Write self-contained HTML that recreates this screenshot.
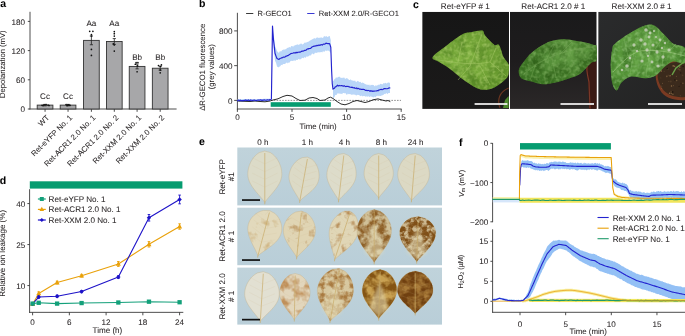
<!DOCTYPE html>
<html><head><meta charset="utf-8"><style>
html,body{margin:0;padding:0;background:#fff;}
body{width:685px;height:336px;overflow:hidden;}
svg{display:block;font-family:"Liberation Sans", sans-serif;will-change:transform;}
text{text-rendering:geometricPrecision;stroke:#231f20;stroke-width:0.06px;paint-order:stroke;}
</style></head><body>
<svg width="685" height="336" viewBox="0 0 685 336">
<text x="0.30" y="7.30" font-size="10.5" text-anchor="start" font-weight="bold" fill="#000" >a</text>
<line x1="30.00" y1="11.80" x2="30.00" y2="109.45" stroke="#3a3a3a" stroke-width="0.9" />
<line x1="27.80" y1="109.00" x2="30.00" y2="109.00" stroke="#3a3a3a" stroke-width="0.9" />
<text x="24.90" y="112.10" font-size="8.1" text-anchor="end" font-weight="normal" fill="#231f20" >0</text>
<line x1="27.80" y1="79.80" x2="30.00" y2="79.80" stroke="#3a3a3a" stroke-width="0.9" />
<text x="24.90" y="82.90" font-size="8.1" text-anchor="end" font-weight="normal" fill="#231f20" >60</text>
<line x1="27.80" y1="50.60" x2="30.00" y2="50.60" stroke="#3a3a3a" stroke-width="0.9" />
<text x="24.90" y="53.70" font-size="8.1" text-anchor="end" font-weight="normal" fill="#231f20" >120</text>
<line x1="27.80" y1="21.40" x2="30.00" y2="21.40" stroke="#3a3a3a" stroke-width="0.9" />
<text x="24.90" y="24.50" font-size="8.1" text-anchor="end" font-weight="normal" fill="#231f20" >180</text>
<text x="0" y="0" transform="translate(5.00,64.20) rotate(-90)" font-size="7.65" text-anchor="middle" font-weight="normal" fill="#231f20" >Depolarization (mV)</text>
<line x1="29.55" y1="109.00" x2="176.60" y2="109.00" stroke="#3a3a3a" stroke-width="0.9" />
<rect x="37.20" y="105.11" width="15.7" height="3.89" fill="#a7a7a9" stroke="#333" stroke-width="0.9"/>
<line x1="45.05" y1="105.84" x2="45.05" y2="104.38" stroke="#222" stroke-width="0.8" />
<line x1="43.45" y1="104.38" x2="46.65" y2="104.38" stroke="#222" stroke-width="0.8" />
<line x1="43.45" y1="105.84" x2="46.65" y2="105.84" stroke="#222" stroke-width="0.8" />
<circle cx="42.05" cy="105.35" r="0.85" fill="#111"/>
<circle cx="44.05" cy="104.86" r="0.85" fill="#111"/>
<circle cx="46.05" cy="104.62" r="0.85" fill="#111"/>
<circle cx="48.05" cy="105.11" r="0.85" fill="#111"/>
<circle cx="43.05" cy="105.59" r="0.85" fill="#111"/>
<circle cx="49.05" cy="105.50" r="0.85" fill="#111"/>
<line x1="45.05" y1="109.00" x2="45.05" y2="111.80" stroke="#3a3a3a" stroke-width="0.9" />
<text x="45.05" y="99.40" font-size="8.1" text-anchor="middle" font-weight="normal" fill="#231f20" >Cc</text>
<text x="0" y="0" transform="translate(49.75,118.20) rotate(-45)" font-size="7.75" text-anchor="end" font-weight="normal" fill="#231f20" >WT</text>
<rect x="60.20" y="105.11" width="15.7" height="3.89" fill="#a7a7a9" stroke="#333" stroke-width="0.9"/>
<line x1="68.05" y1="105.84" x2="68.05" y2="104.38" stroke="#222" stroke-width="0.8" />
<line x1="66.45" y1="104.38" x2="69.65" y2="104.38" stroke="#222" stroke-width="0.8" />
<line x1="66.45" y1="105.84" x2="69.65" y2="105.84" stroke="#222" stroke-width="0.8" />
<circle cx="66.05" cy="104.62" r="0.85" fill="#111"/>
<circle cx="68.05" cy="104.86" r="0.85" fill="#111"/>
<circle cx="70.05" cy="105.35" r="0.85" fill="#111"/>
<circle cx="67.05" cy="105.59" r="0.85" fill="#111"/>
<circle cx="69.05" cy="105.11" r="0.85" fill="#111"/>
<line x1="68.05" y1="109.00" x2="68.05" y2="111.80" stroke="#3a3a3a" stroke-width="0.9" />
<text x="68.05" y="99.40" font-size="8.1" text-anchor="middle" font-weight="normal" fill="#231f20" >Cc</text>
<text x="0" y="0" transform="translate(72.75,118.20) rotate(-45)" font-size="7.75" text-anchor="end" font-weight="normal" fill="#231f20" >Ret-eYFP No. 1</text>
<rect x="83.55" y="40.38" width="15.7" height="68.62" fill="#a7a7a9" stroke="#333" stroke-width="0.9"/>
<line x1="91.40" y1="44.76" x2="91.40" y2="36.00" stroke="#222" stroke-width="0.8" />
<line x1="89.80" y1="36.00" x2="93.00" y2="36.00" stroke="#222" stroke-width="0.8" />
<line x1="89.80" y1="44.76" x2="93.00" y2="44.76" stroke="#222" stroke-width="0.8" />
<circle cx="89.70" cy="31.33" r="0.85" fill="#111"/>
<circle cx="92.90" cy="31.33" r="0.85" fill="#111"/>
<circle cx="91.40" cy="34.54" r="0.85" fill="#111"/>
<circle cx="91.40" cy="36.00" r="0.85" fill="#111"/>
<circle cx="91.40" cy="49.43" r="0.85" fill="#111"/>
<circle cx="91.40" cy="55.47" r="0.85" fill="#111"/>
<line x1="91.40" y1="109.00" x2="91.40" y2="111.80" stroke="#3a3a3a" stroke-width="0.9" />
<text x="91.40" y="26.00" font-size="8.1" text-anchor="middle" font-weight="normal" fill="#231f20" >Aa</text>
<text x="0" y="0" transform="translate(96.10,118.20) rotate(-45)" font-size="7.75" text-anchor="end" font-weight="normal" fill="#231f20" >Ret-ACR1 2.0 No. 1</text>
<rect x="106.45" y="41.50" width="15.7" height="67.50" fill="#a7a7a9" stroke="#333" stroke-width="0.9"/>
<line x1="114.30" y1="44.42" x2="114.30" y2="38.58" stroke="#222" stroke-width="0.8" />
<line x1="112.70" y1="38.58" x2="115.90" y2="38.58" stroke="#222" stroke-width="0.8" />
<line x1="112.70" y1="44.42" x2="115.90" y2="44.42" stroke="#222" stroke-width="0.8" />
<circle cx="114.30" cy="31.62" r="0.85" fill="#111"/>
<circle cx="114.30" cy="33.71" r="0.85" fill="#111"/>
<circle cx="114.30" cy="36.10" r="0.85" fill="#111"/>
<circle cx="113.30" cy="43.79" r="0.85" fill="#111"/>
<circle cx="114.30" cy="45.00" r="0.85" fill="#111"/>
<circle cx="114.30" cy="51.09" r="0.85" fill="#111"/>
<line x1="114.30" y1="109.00" x2="114.30" y2="111.80" stroke="#3a3a3a" stroke-width="0.9" />
<text x="114.30" y="26.00" font-size="8.1" text-anchor="middle" font-weight="normal" fill="#231f20" >Aa</text>
<text x="0" y="0" transform="translate(119.00,118.20) rotate(-45)" font-size="7.75" text-anchor="end" font-weight="normal" fill="#231f20" >Ret-ACR1 2.0 No. 2</text>
<rect x="129.25" y="66.42" width="15.7" height="42.58" fill="#a7a7a9" stroke="#333" stroke-width="0.9"/>
<line x1="137.10" y1="68.85" x2="137.10" y2="63.98" stroke="#222" stroke-width="0.8" />
<line x1="135.50" y1="63.98" x2="138.70" y2="63.98" stroke="#222" stroke-width="0.8" />
<line x1="135.50" y1="68.85" x2="138.70" y2="68.85" stroke="#222" stroke-width="0.8" />
<circle cx="136.10" cy="62.72" r="0.85" fill="#111"/>
<circle cx="137.90" cy="62.52" r="0.85" fill="#111"/>
<circle cx="135.30" cy="64.23" r="0.85" fill="#111"/>
<circle cx="137.60" cy="65.88" r="0.85" fill="#111"/>
<circle cx="137.10" cy="71.77" r="0.85" fill="#111"/>
<line x1="137.10" y1="109.00" x2="137.10" y2="111.80" stroke="#3a3a3a" stroke-width="0.9" />
<text x="137.10" y="59.70" font-size="8.1" text-anchor="middle" font-weight="normal" fill="#231f20" >Bb</text>
<text x="0" y="0" transform="translate(141.80,118.20) rotate(-45)" font-size="7.75" text-anchor="end" font-weight="normal" fill="#231f20" >Ret-XXM 2.0 No. 1</text>
<rect x="152.35" y="68.22" width="15.7" height="40.78" fill="#a7a7a9" stroke="#333" stroke-width="0.9"/>
<line x1="160.20" y1="70.16" x2="160.20" y2="66.27" stroke="#222" stroke-width="0.8" />
<line x1="158.60" y1="66.27" x2="161.80" y2="66.27" stroke="#222" stroke-width="0.8" />
<line x1="158.60" y1="70.16" x2="161.80" y2="70.16" stroke="#222" stroke-width="0.8" />
<circle cx="158.50" cy="65.49" r="0.85" fill="#111"/>
<circle cx="161.40" cy="64.91" r="0.85" fill="#111"/>
<circle cx="160.40" cy="66.51" r="0.85" fill="#111"/>
<circle cx="160.20" cy="70.12" r="0.85" fill="#111"/>
<circle cx="160.20" cy="72.79" r="0.85" fill="#111"/>
<line x1="160.20" y1="109.00" x2="160.20" y2="111.80" stroke="#3a3a3a" stroke-width="0.9" />
<text x="160.20" y="59.70" font-size="8.1" text-anchor="middle" font-weight="normal" fill="#231f20" >Bb</text>
<text x="0" y="0" transform="translate(164.90,118.20) rotate(-45)" font-size="7.75" text-anchor="end" font-weight="normal" fill="#231f20" >Ret-XXM 2.0 No. 2</text>
<text x="198.90" y="7.30" font-size="10.5" text-anchor="start" font-weight="bold" fill="#000" >b</text>
<line x1="237.40" y1="12.80" x2="237.40" y2="109.40" stroke="#3a3a3a" stroke-width="0.9" />
<line x1="234.20" y1="100.40" x2="237.40" y2="100.40" stroke="#3a3a3a" stroke-width="0.9" />
<text x="232.40" y="103.50" font-size="8.1" text-anchor="end" font-weight="normal" fill="#231f20" >0</text>
<line x1="234.20" y1="65.65" x2="237.40" y2="65.65" stroke="#3a3a3a" stroke-width="0.9" />
<text x="232.40" y="68.75" font-size="8.1" text-anchor="end" font-weight="normal" fill="#231f20" >400</text>
<line x1="234.20" y1="30.90" x2="237.40" y2="30.90" stroke="#3a3a3a" stroke-width="0.9" />
<text x="232.40" y="34.00" font-size="8.1" text-anchor="end" font-weight="normal" fill="#231f20" >800</text>
<line x1="236.95" y1="109.00" x2="401.60" y2="109.00" stroke="#3a3a3a" stroke-width="0.9" />
<line x1="237.40" y1="109.00" x2="237.40" y2="111.90" stroke="#3a3a3a" stroke-width="0.9" />
<text x="237.40" y="120.30" font-size="8.1" text-anchor="middle" font-weight="normal" fill="#231f20" >0</text>
<line x1="292.00" y1="109.00" x2="292.00" y2="111.90" stroke="#3a3a3a" stroke-width="0.9" />
<text x="292.00" y="120.30" font-size="8.1" text-anchor="middle" font-weight="normal" fill="#231f20" >5</text>
<line x1="346.60" y1="109.00" x2="346.60" y2="111.90" stroke="#3a3a3a" stroke-width="0.9" />
<text x="346.60" y="120.30" font-size="8.1" text-anchor="middle" font-weight="normal" fill="#231f20" >10</text>
<line x1="401.20" y1="109.00" x2="401.20" y2="111.90" stroke="#3a3a3a" stroke-width="0.9" />
<text x="401.20" y="120.30" font-size="8.1" text-anchor="middle" font-weight="normal" fill="#231f20" >15</text>
<text x="318.10" y="128.80" font-size="7.8" text-anchor="middle" font-weight="normal" fill="#231f20" >Time (min)</text>
<text x="0" y="0" transform="translate(205.20,67.30) rotate(-90)" font-size="7.8" text-anchor="middle" font-weight="normal" fill="#231f20" >ΔR-GECO1 fluorescence</text>
<text x="0" y="0" transform="translate(213.60,66.80) rotate(-90)" font-size="7.8" text-anchor="middle" font-weight="normal" fill="#231f20" >(grey values)</text>
<line x1="246.10" y1="13.50" x2="253.30" y2="13.50" stroke="#222" stroke-width="0.9" />
<text x="257.50" y="15.90" font-size="7.5" text-anchor="start" font-weight="normal" fill="#231f20" >R-GECO1</text>
<line x1="307.20" y1="13.50" x2="314.50" y2="13.50" stroke="#2323cf" stroke-width="0.9" />
<text x="318.70" y="15.90" font-size="7.6" text-anchor="start" font-weight="normal" fill="#231f20" >Ret-XXM 2.0/R-GECO1</text>
<line x1="237.40" y1="100.40" x2="401.00" y2="100.40" stroke="#444" stroke-width="0.6" stroke-dasharray="1.6,1.2"/>
<rect x="270.7" y="102.2" width="60.1" height="4.6" fill="#069c70"/>
<path d="M237.50,99.40 L238.25,99.36 L239.00,99.32 L239.75,99.28 L240.50,99.24 L241.25,99.20 L242.00,99.16 L242.75,99.12 L243.50,99.08 L244.25,99.04 L245.00,99.00 L245.71,99.01 L246.43,99.03 L247.14,99.04 L247.86,99.06 L248.57,99.07 L249.29,99.09 L250.00,99.10 L250.71,99.11 L251.43,99.13 L252.14,99.14 L252.86,99.16 L253.57,99.17 L254.29,99.19 L255.00,99.20 L255.71,99.17 L256.43,99.14 L257.14,99.11 L257.86,99.09 L258.57,99.06 L259.29,99.03 L260.00,99.00 L260.71,98.97 L261.43,98.94 L262.14,98.91 L262.86,98.89 L263.57,98.86 L264.29,98.83 L265.00,98.80 L265.71,98.77 L266.43,98.74 L267.14,98.71 L267.86,98.69 L268.57,98.66 L269.29,98.63 L270.00,98.60 L270.00,101.00 L269.29,101.03 L268.57,101.06 L267.86,101.09 L267.14,101.11 L266.43,101.14 L265.71,101.17 L265.00,101.20 L264.29,101.23 L263.57,101.26 L262.86,101.29 L262.14,101.31 L261.43,101.34 L260.71,101.37 L260.00,101.40 L259.29,101.43 L258.57,101.46 L257.86,101.49 L257.14,101.51 L256.43,101.54 L255.71,101.57 L255.00,101.60 L254.29,101.59 L253.57,101.57 L252.86,101.56 L252.14,101.54 L251.43,101.53 L250.71,101.51 L250.00,101.50 L249.29,101.49 L248.57,101.47 L247.86,101.46 L247.14,101.44 L246.43,101.43 L245.71,101.41 L245.00,101.40 L244.25,101.44 L243.50,101.48 L242.75,101.52 L242.00,101.56 L241.25,101.60 L240.50,101.64 L239.75,101.68 L239.00,101.72 L238.25,101.76 L237.50,101.80Z" fill="#b9d6f8" stroke="none" />
<path d="M273.50,33.12 L274.25,39.13 L275.00,45.91 L276.00,48.28 L277.00,51.00 L278.40,52.80 L279.17,52.56 L279.93,50.93 L280.70,51.54 L281.47,51.26 L282.23,49.72 L283.00,50.25 L283.72,49.36 L284.43,49.64 L285.15,49.08 L285.87,49.56 L286.58,48.48 L287.30,47.81 L288.05,48.00 L288.80,47.28 L289.55,47.03 L290.30,47.63 L291.05,46.15 L291.80,46.05 L292.54,46.37 L293.28,46.65 L294.02,45.17 L294.76,45.64 L295.50,45.10 L296.24,44.69 L296.98,44.81 L297.72,44.33 L298.46,45.02 L299.20,44.22 L299.94,44.57 L300.69,43.57 L301.43,43.45 L302.17,44.49 L302.91,44.21 L303.66,43.87 L304.40,42.46 L305.14,42.99 L305.89,42.37 L306.63,42.58 L307.37,41.93 L308.11,41.81 L308.86,41.55 L309.60,40.86 L310.35,40.53 L311.10,39.68 L311.85,39.70 L312.60,38.96 L313.35,38.74 L314.10,38.19 L314.85,38.36 L315.60,38.84 L316.34,37.65 L317.08,37.41 L317.81,37.43 L318.55,37.89 L319.29,37.58 L320.02,38.31 L320.76,37.24 L321.50,37.58 L322.25,37.79 L323.00,37.90 L323.75,36.38 L324.50,35.92 L325.25,37.11 L326.00,35.72 L326.74,36.40 L327.48,36.88 L328.22,36.71 L328.96,36.01 L329.70,35.90 L330.80,40.23 L330.80,53.46 L329.70,51.42 L328.96,50.94 L328.22,50.48 L327.48,50.50 L326.74,51.35 L326.00,50.36 L325.25,50.75 L324.50,51.68 L323.75,51.66 L323.00,51.04 L322.25,52.49 L321.50,52.10 L320.76,52.06 L320.02,52.60 L319.29,52.32 L318.55,52.30 L317.81,52.46 L317.08,52.46 L316.34,52.97 L315.60,52.83 L314.85,52.84 L314.10,54.32 L313.35,54.19 L312.60,53.55 L311.85,53.82 L311.10,55.31 L310.35,55.59 L309.60,55.36 L308.86,56.20 L308.11,56.17 L307.37,56.75 L306.63,56.15 L305.89,57.38 L305.14,57.67 L304.40,57.03 L303.66,58.14 L302.91,58.09 L302.17,57.66 L301.43,58.73 L300.69,58.91 L299.94,59.85 L299.20,58.98 L298.46,59.03 L297.72,59.95 L296.98,59.64 L296.24,59.91 L295.50,60.75 L294.76,60.39 L294.02,60.44 L293.28,60.65 L292.54,60.88 L291.80,60.83 L291.05,61.10 L290.30,61.34 L289.55,62.53 L288.80,63.00 L288.05,62.34 L287.30,63.59 L286.58,62.57 L285.87,63.05 L285.15,64.08 L284.43,64.05 L283.72,64.02 L283.00,64.05 L282.23,65.28 L281.47,64.76 L280.70,65.45 L279.93,66.86 L279.17,66.39 L278.40,67.47 L277.00,66.41 L276.00,62.78 L275.00,60.65 L274.25,53.07 L273.50,47.48Z" fill="#b9d6f8" stroke="none" />
<path d="M333.00,81.18 L333.75,80.47 L334.50,78.97 L335.25,78.80 L336.00,77.33 L336.75,77.63 L337.56,77.38 L338.38,76.92 L339.19,76.59 L340.00,77.32 L340.71,77.81 L341.43,78.11 L342.14,77.58 L342.86,78.26 L343.57,77.40 L344.29,77.48 L345.00,78.65 L345.71,78.70 L346.43,78.06 L347.14,78.52 L347.86,78.46 L348.57,79.40 L349.29,79.95 L350.00,79.89 L350.71,79.28 L351.43,80.32 L352.14,80.40 L352.86,80.49 L353.57,80.69 L354.29,80.90 L355.00,80.29 L355.71,81.71 L356.43,82.15 L357.14,80.85 L357.86,81.15 L358.57,81.18 L359.29,82.27 L360.00,81.64 L360.71,81.88 L361.43,83.21 L362.14,82.57 L362.86,82.63 L363.57,83.11 L364.29,83.54 L365.00,84.11 L365.71,84.23 L366.43,84.61 L367.14,85.06 L367.86,84.43 L368.57,85.11 L369.29,84.48 L370.00,85.90 L370.71,84.63 L371.42,85.06 L372.12,84.79 L372.83,84.94 L373.54,85.03 L374.25,85.63 L375.00,86.38 L375.75,85.06 L376.50,85.83 L377.25,85.47 L378.00,84.74 L378.80,84.76 L379.60,84.74 L380.40,83.70 L381.20,84.02 L382.00,84.25 L382.80,84.20 L383.60,83.02 L384.40,83.44 L385.20,82.75 L386.00,83.24 L386.80,83.40 L387.60,82.78 L388.40,82.25 L389.20,83.21 L390.00,82.13 L390.00,92.96 L389.20,93.03 L388.40,93.03 L387.60,94.28 L386.80,93.35 L386.00,93.21 L385.20,94.34 L384.40,93.77 L383.60,94.70 L382.80,95.17 L382.00,95.27 L381.20,95.67 L380.40,96.02 L379.60,95.86 L378.80,96.30 L378.00,95.40 L377.25,96.09 L376.50,95.92 L375.75,96.92 L375.00,97.24 L374.25,96.55 L373.54,97.44 L372.83,97.37 L372.12,96.66 L371.42,96.67 L370.71,96.12 L370.00,97.14 L369.29,96.80 L368.57,96.25 L367.86,96.51 L367.14,96.80 L366.43,96.27 L365.71,96.64 L365.00,96.22 L364.29,95.94 L363.57,95.95 L362.86,96.17 L362.14,96.37 L361.43,95.61 L360.71,96.17 L360.00,95.80 L359.29,95.35 L358.57,94.95 L357.86,94.71 L357.14,95.10 L356.43,95.56 L355.71,95.21 L355.00,94.44 L354.29,94.68 L353.57,94.38 L352.86,94.56 L352.14,94.84 L351.43,94.85 L350.71,94.29 L350.00,94.15 L349.29,94.07 L348.57,94.28 L347.86,93.53 L347.14,94.67 L346.43,94.78 L345.71,93.25 L345.00,93.25 L344.29,93.24 L343.57,93.11 L342.86,93.01 L342.14,94.24 L341.43,93.74 L340.71,93.65 L340.00,93.80 L339.19,93.48 L338.38,93.57 L337.56,93.31 L336.75,94.68 L336.00,95.11 L335.25,94.91 L334.50,97.02 L333.75,97.69 L333.00,98.57Z" fill="#b9d6f8" stroke="none" />
<path d="M237.50,101.00 L245.00,101.30 L250.00,101.50 L255.00,101.00 L260.00,101.50 L265.00,101.80 L270.00,101.00 L273.00,100.00 L278.00,98.80 L283.00,96.50 L287.00,95.30 L292.00,96.00 L296.00,98.50 L300.00,100.50 L305.00,100.20 L309.00,98.00 L313.00,97.50 L317.00,98.50 L320.00,100.50 L325.00,100.00 L328.00,98.00 L330.50,97.20 L333.00,98.50 L337.00,101.50 L341.00,104.00 L345.00,104.80 L349.00,103.50 L353.00,101.50 L357.00,100.50 L361.00,101.50 L365.00,102.50 L369.00,101.50 L373.00,99.80 L378.00,98.90 L382.00,100.00 L386.00,101.00 L388.00,100.50 L390.00,101.50" fill="none" stroke="#2a2a2a" stroke-width="1.0" stroke-linejoin="round" stroke-linecap="round" />
<path d="M237.50,100.94 L238.25,100.27 L239.00,100.09 L239.75,100.79 L240.50,100.10 L241.25,100.71 L242.00,100.52 L242.75,100.62 L243.50,100.69 L244.25,100.31 L245.00,100.47 L245.71,99.80 L246.43,100.47 L247.14,100.25 L247.86,100.45 L248.57,99.92 L249.29,100.51 L250.00,100.69 L250.71,99.92 L251.43,100.17 L252.14,100.40 L252.86,100.65 L253.57,100.14 L254.29,100.10 L255.00,100.17 L255.71,100.48 L256.43,100.57 L257.14,100.22 L257.86,100.17 L258.57,100.16 L259.29,100.09 L260.00,100.13 L260.71,99.80 L261.43,100.14 L262.14,100.54 L262.86,100.01 L263.57,100.28 L264.29,99.72 L265.00,100.17 L265.71,100.20 L266.43,100.10 L267.14,99.93 L267.86,99.87 L268.57,99.99 L269.29,100.19 L270.00,99.48 L271.40,99.20 L272.00,60.00 L272.50,26.00 L273.50,40.00 L274.25,46.14 L275.00,53.22 L276.00,56.12 L277.00,58.52 L278.40,59.35 L279.17,59.28 L279.93,58.48 L280.70,58.24 L281.47,57.86 L282.23,57.89 L283.00,57.33 L283.72,56.96 L284.43,57.07 L285.15,57.01 L285.87,56.12 L286.58,56.18 L287.30,55.62 L288.05,55.65 L288.80,55.04 L289.55,54.39 L290.30,53.98 L291.05,53.44 L291.80,53.48 L292.54,53.24 L293.28,52.91 L294.02,52.92 L294.76,52.74 L295.50,53.00 L296.24,52.28 L296.98,52.89 L297.72,52.28 L298.46,52.24 L299.20,51.97 L299.94,52.09 L300.69,51.86 L301.43,51.41 L302.17,51.13 L302.91,51.13 L303.66,51.04 L304.40,50.41 L305.14,50.40 L305.89,50.29 L306.63,49.53 L307.37,49.00 L308.11,48.69 L308.86,48.81 L309.60,48.46 L310.35,48.38 L311.10,47.94 L311.85,47.06 L312.60,46.67 L313.35,46.40 L314.10,45.99 L314.85,46.12 L315.60,45.92 L316.34,45.88 L317.08,45.23 L317.81,45.70 L318.55,45.13 L319.29,45.16 L320.02,45.36 L320.76,44.70 L321.50,44.63 L322.25,45.05 L323.00,44.31 L323.75,44.12 L324.50,44.07 L325.25,43.91 L326.00,43.06 L326.74,43.41 L327.48,43.56 L328.22,43.67 L328.96,43.48 L329.70,43.88 L330.80,47.21 L331.60,69.90 L332.30,84.04 L333.00,89.06 L333.75,88.50 L334.50,88.15 L335.25,86.85 L336.00,86.75 L336.75,85.97 L337.56,85.21 L338.38,85.95 L339.19,85.41 L340.00,85.75 L340.71,85.80 L341.43,85.46 L342.14,85.87 L342.86,85.92 L343.57,86.13 L344.29,85.72 L345.00,86.23 L345.71,86.56 L346.43,86.44 L347.14,86.46 L347.86,86.22 L348.57,86.71 L349.29,86.72 L350.00,87.20 L350.71,87.30 L351.43,87.35 L352.14,87.14 L352.86,87.70 L353.57,87.83 L354.29,87.57 L355.00,88.35 L355.71,88.28 L356.43,87.95 L357.14,88.82 L357.86,88.25 L358.57,88.56 L359.29,89.06 L360.00,89.09 L360.71,89.19 L361.43,89.42 L362.14,89.39 L362.86,89.40 L363.57,89.42 L364.29,89.47 L365.00,90.19 L365.71,90.37 L366.43,90.32 L367.14,90.64 L367.86,90.44 L368.57,90.50 L369.29,90.75 L370.00,91.34 L370.71,90.63 L371.42,91.09 L372.12,90.90 L372.83,91.41 L373.54,91.08 L374.25,91.10 L375.00,91.01 L375.75,90.99 L376.50,91.04 L377.25,90.52 L378.00,90.81 L378.80,89.95 L379.60,89.89 L380.40,89.54 L381.20,89.35 L382.00,89.75 L382.80,89.50 L383.60,88.82 L384.40,88.62 L385.20,88.62 L386.00,88.72 L386.80,88.70 L387.60,88.56 L388.40,88.34 L389.20,87.86 L390.00,88.01" fill="none" stroke="#2323cf" stroke-width="1.15" stroke-linejoin="round" stroke-linecap="round" />
<text x="413.00" y="7.70" font-size="10.5" text-anchor="start" font-weight="bold" fill="#000" >c</text>
<text x="465.30" y="9.30" font-size="8.1" text-anchor="middle" font-weight="normal" fill="#231f20" >Ret-eYFP # 1</text>
<text x="553.30" y="9.30" font-size="8.1" text-anchor="middle" font-weight="normal" fill="#231f20" >Ret-ACR1 2.0 # 1</text>
<text x="641.50" y="9.30" font-size="8.1" text-anchor="middle" font-weight="normal" fill="#231f20" >Ret-XXM 2.0 # 1</text>
<defs>
<clipPath id="cp1"><rect x="422.2" y="11.8" width="86.8" height="97.1"/></clipPath>
<clipPath id="cp2"><rect x="510.0" y="11.8" width="86.7" height="97.1"/></clipPath>
<clipPath id="cp3"><rect x="598.2" y="11.8" width="86.8" height="97.1"/></clipPath>
<linearGradient id="bg1" x1="0" y1="0" x2="0" y2="1"><stop offset="0" stop-color="#161616"/><stop offset="1" stop-color="#1b1a1a"/></linearGradient>
<linearGradient id="bg2" x1="0" y1="0" x2="0" y2="1"><stop offset="0" stop-color="#1a1a1b"/><stop offset="0.5" stop-color="#1e1c1d"/><stop offset="1" stop-color="#2b2828"/></linearGradient>
<linearGradient id="bg3" x1="0" y1="0" x2="1" y2="1"><stop offset="0" stop-color="#2a2b2c"/><stop offset="1" stop-color="#232323"/></linearGradient>
<radialGradient id="lf1" cx="0.4" cy="0.5" r="0.65"><stop offset="0" stop-color="#82b442"/><stop offset="1" stop-color="#64962c"/></radialGradient>
<radialGradient id="lf2" cx="0.6" cy="0.25" r="0.75"><stop offset="0" stop-color="#6aa44a"/><stop offset="1" stop-color="#3c7424"/></radialGradient>
<radialGradient id="lf3" cx="0.4" cy="0.4" r="0.6"><stop offset="0" stop-color="#6aaa48"/><stop offset="1" stop-color="#4f8e34"/></radialGradient>
<filter id="tx1" x="0" y="0" width="100%" height="100%" filterUnits="objectBoundingBox" color-interpolation-filters="sRGB"><feTurbulence type="fractalNoise" baseFrequency="0.09" numOctaves="3" seed="11" result="n"/><feColorMatrix in="n" type="matrix" values="0 0 0 0 0.290  0 0 0 0 0.478  0 0 0 0 0.118  0 0 0 1.6 -0.62" result="m"/><feComposite in="m" in2="SourceGraphic" operator="in"/></filter>
<filter id="tx2" x="0" y="0" width="100%" height="100%" filterUnits="objectBoundingBox" color-interpolation-filters="sRGB"><feTurbulence type="fractalNoise" baseFrequency="0.09" numOctaves="3" seed="12" result="n"/><feColorMatrix in="n" type="matrix" values="0 0 0 0 0.165  0 0 0 0 0.353  0 0 0 0 0.078  0 0 0 1.6 -0.55" result="m"/><feComposite in="m" in2="SourceGraphic" operator="in"/></filter>
<filter id="tx3" x="0" y="0" width="100%" height="100%" filterUnits="objectBoundingBox" color-interpolation-filters="sRGB"><feTurbulence type="fractalNoise" baseFrequency="0.09" numOctaves="3" seed="13" result="n"/><feColorMatrix in="n" type="matrix" values="0 0 0 0 0.208  0 0 0 0 0.416  0 0 0 0 0.125  0 0 0 1.6 -0.62" result="m"/><feComposite in="m" in2="SourceGraphic" operator="in"/></filter>
<filter id="tl1" x="0" y="0" width="100%" height="100%" filterUnits="objectBoundingBox" color-interpolation-filters="sRGB"><feTurbulence type="fractalNoise" baseFrequency="0.25" numOctaves="3" seed="21" result="n"/><feColorMatrix in="n" type="matrix" values="0 0 0 0 0.690  0 0 0 0 0.816  0 0 0 0 0.439  0 0 0 1.4 -0.58" result="m"/><feComposite in="m" in2="SourceGraphic" operator="in"/></filter>
<filter id="tl2" x="0" y="0" width="100%" height="100%" filterUnits="objectBoundingBox" color-interpolation-filters="sRGB"><feTurbulence type="fractalNoise" baseFrequency="0.25" numOctaves="3" seed="22" result="n"/><feColorMatrix in="n" type="matrix" values="0 0 0 0 0.533  0 0 0 0 0.722  0 0 0 0 0.408  0 0 0 1.4 -0.58" result="m"/><feComposite in="m" in2="SourceGraphic" operator="in"/></filter>
<filter id="tl3" x="0" y="0" width="100%" height="100%" filterUnits="objectBoundingBox" color-interpolation-filters="sRGB"><feTurbulence type="fractalNoise" baseFrequency="0.25" numOctaves="3" seed="23" result="n"/><feColorMatrix in="n" type="matrix" values="0 0 0 0 0.596  0 0 0 0 0.784  0 0 0 0 0.502  0 0 0 1.4 -0.58" result="m"/><feComposite in="m" in2="SourceGraphic" operator="in"/></filter>
</defs>
<g clip-path="url(#cp1)">
<rect x="422.2" y="11.8" width="86.8" height="97.1" fill="url(#bg1)"/>
<path d="M500,108 C497,100 499,92 508.7,88" fill="none" stroke="#6a3520" stroke-width="1.2"/>
<path d="M503,108 L505,100 L508.7,96 L508.7,108Z" fill="#4c8a2c"/>
<path d="M432.70,57.00 C434.00,54.40 441.03,49.78 446.00,46.00 C450.97,42.22 458.17,36.63 462.50,34.30 C466.83,31.97 468.72,32.62 472.00,32.00 C475.28,31.38 479.98,29.97 482.20,30.60 C484.42,31.23 483.27,33.42 485.30,35.80 C487.33,38.18 492.12,43.37 494.40,44.90 C496.68,46.43 497.48,42.98 499.00,45.00 C500.52,47.02 501.88,53.73 503.50,57.00 C505.12,60.27 507.83,62.10 508.70,64.60 C509.57,67.10 509.07,69.72 508.70,72.00 C508.33,74.28 508.88,75.73 506.50,78.30 C504.12,80.87 498.70,85.53 494.40,87.40 C490.10,89.27 485.52,90.52 480.70,89.50 C475.88,88.48 470.55,84.68 465.50,81.30 C460.45,77.92 454.95,72.48 450.40,69.20 C445.85,65.92 441.15,63.63 438.20,61.60 C435.25,59.57 431.40,59.60 432.70,57.00Z" fill="url(#lf1)"/>
<path d="M432.70,57.00 C434.00,54.40 441.03,49.78 446.00,46.00 C450.97,42.22 458.17,36.63 462.50,34.30 C466.83,31.97 468.72,32.62 472.00,32.00 C475.28,31.38 479.98,29.97 482.20,30.60 C484.42,31.23 483.27,33.42 485.30,35.80 C487.33,38.18 492.12,43.37 494.40,44.90 C496.68,46.43 497.48,42.98 499.00,45.00 C500.52,47.02 501.88,53.73 503.50,57.00 C505.12,60.27 507.83,62.10 508.70,64.60 C509.57,67.10 509.07,69.72 508.70,72.00 C508.33,74.28 508.88,75.73 506.50,78.30 C504.12,80.87 498.70,85.53 494.40,87.40 C490.10,89.27 485.52,90.52 480.70,89.50 C475.88,88.48 470.55,84.68 465.50,81.30 C460.45,77.92 454.95,72.48 450.40,69.20 C445.85,65.92 441.15,63.63 438.20,61.60 C435.25,59.57 431.40,59.60 432.70,57.00Z" fill="#000" filter="url(#tx1)"/>
<path d="M432.70,57.00 C434.00,54.40 441.03,49.78 446.00,46.00 C450.97,42.22 458.17,36.63 462.50,34.30 C466.83,31.97 468.72,32.62 472.00,32.00 C475.28,31.38 479.98,29.97 482.20,30.60 C484.42,31.23 483.27,33.42 485.30,35.80 C487.33,38.18 492.12,43.37 494.40,44.90 C496.68,46.43 497.48,42.98 499.00,45.00 C500.52,47.02 501.88,53.73 503.50,57.00 C505.12,60.27 507.83,62.10 508.70,64.60 C509.57,67.10 509.07,69.72 508.70,72.00 C508.33,74.28 508.88,75.73 506.50,78.30 C504.12,80.87 498.70,85.53 494.40,87.40 C490.10,89.27 485.52,90.52 480.70,89.50 C475.88,88.48 470.55,84.68 465.50,81.30 C460.45,77.92 454.95,72.48 450.40,69.20 C445.85,65.92 441.15,63.63 438.20,61.60 C435.25,59.57 431.40,59.60 432.70,57.00Z" fill="#000" filter="url(#tl1)"/>
<path d="M438,60 C455,62 470,66 490,62 L506,76 M470,66 L482,34 M470,66 L458,80 M490,62 L496,48 M458,62 L462,42 M480,66 L490,85" fill="none" stroke="#a9c96a" stroke-width="0.7" opacity="0.7"/>
<rect x="474.6" y="103.1" width="32.8" height="1.8" fill="#ececec"/>
</g>
<g clip-path="url(#cp2)">
<rect x="510.0" y="11.8" width="86.7" height="97.1" fill="url(#bg2)"/>
<path d="M588,62 C585,64 586,72 588,80 L589,108.7 L596.8,108.7 L596.8,58 C593,58 590,60 588,62Z" fill="#3a1a14"/>
<path d="M588,62 C586,66 587,74 589,82 L590,108.7" fill="none" stroke="#7a3828" stroke-width="1.2"/>
<path d="M545.40,43.40 C549.43,41.33 552.47,40.67 556.00,40.00 C559.53,39.33 562.30,39.10 566.60,39.40 C570.90,39.70 577.23,40.88 581.80,41.80 C586.37,42.72 591.50,44.13 594.00,44.90 C596.50,45.67 596.33,43.88 596.80,46.40 C597.27,48.92 597.77,57.23 596.80,60.00 C595.83,62.77 593.75,60.72 591.00,63.00 C588.25,65.28 583.85,71.17 580.30,73.70 C576.75,76.23 574.00,76.68 569.70,78.20 C565.40,79.72 559.05,81.78 554.50,82.80 C549.95,83.82 546.43,84.55 542.40,84.30 C538.37,84.05 533.83,82.32 530.30,81.30 C526.77,80.28 523.13,79.98 521.20,78.20 C519.27,76.42 518.45,73.13 518.70,70.60 C518.95,68.07 520.52,66.03 522.70,63.00 C524.88,59.97 528.02,55.67 531.80,52.40 C535.58,49.13 541.37,45.47 545.40,43.40Z" fill="url(#lf2)"/>
<path d="M545.40,43.40 C549.43,41.33 552.47,40.67 556.00,40.00 C559.53,39.33 562.30,39.10 566.60,39.40 C570.90,39.70 577.23,40.88 581.80,41.80 C586.37,42.72 591.50,44.13 594.00,44.90 C596.50,45.67 596.33,43.88 596.80,46.40 C597.27,48.92 597.77,57.23 596.80,60.00 C595.83,62.77 593.75,60.72 591.00,63.00 C588.25,65.28 583.85,71.17 580.30,73.70 C576.75,76.23 574.00,76.68 569.70,78.20 C565.40,79.72 559.05,81.78 554.50,82.80 C549.95,83.82 546.43,84.55 542.40,84.30 C538.37,84.05 533.83,82.32 530.30,81.30 C526.77,80.28 523.13,79.98 521.20,78.20 C519.27,76.42 518.45,73.13 518.70,70.60 C518.95,68.07 520.52,66.03 522.70,63.00 C524.88,59.97 528.02,55.67 531.80,52.40 C535.58,49.13 541.37,45.47 545.40,43.40Z" fill="#000" filter="url(#tx2)"/>
<path d="M545.40,43.40 C549.43,41.33 552.47,40.67 556.00,40.00 C559.53,39.33 562.30,39.10 566.60,39.40 C570.90,39.70 577.23,40.88 581.80,41.80 C586.37,42.72 591.50,44.13 594.00,44.90 C596.50,45.67 596.33,43.88 596.80,46.40 C597.27,48.92 597.77,57.23 596.80,60.00 C595.83,62.77 593.75,60.72 591.00,63.00 C588.25,65.28 583.85,71.17 580.30,73.70 C576.75,76.23 574.00,76.68 569.70,78.20 C565.40,79.72 559.05,81.78 554.50,82.80 C549.95,83.82 546.43,84.55 542.40,84.30 C538.37,84.05 533.83,82.32 530.30,81.30 C526.77,80.28 523.13,79.98 521.20,78.20 C519.27,76.42 518.45,73.13 518.70,70.60 C518.95,68.07 520.52,66.03 522.70,63.00 C524.88,59.97 528.02,55.67 531.80,52.40 C535.58,49.13 541.37,45.47 545.40,43.40Z" fill="#000" filter="url(#tl2)"/>
<path d="M524,74 C540,60 560,50 594,47 M545,62 L556,42 M560,54 L572,42 M535,66 L530,80 M552,58 L556,78" fill="none" stroke="#78a858" stroke-width="0.7" opacity="0.6"/>
<rect x="560.5" y="103.1" width="33.5" height="1.8" fill="#ececec"/>
</g>
<g clip-path="url(#cp3)">
<rect x="598.2" y="11.8" width="86.8" height="97.1" fill="url(#bg3)"/>
<path d="M656,70 C660,62 675,58 685,60 L685,100 C675,101 664,98 660,90 C656,84 655,76 656,70Z" fill="#7a3a22"/>
<path d="M658,71 C662,64 675,61 685,62 L685,97 C676,98 666,95 662,88 C658,82 657,77 658,71Z" fill="#3b2a1c"/>
<circle cx="667.8" cy="68.8" r="0.86" fill="#6b5236"/>
<circle cx="679.7" cy="67.0" r="0.81" fill="#8a6a44"/>
<circle cx="660.9" cy="77.9" r="0.45" fill="#6b5236"/>
<circle cx="673.2" cy="65.9" r="0.80" fill="#8a6a44"/>
<circle cx="675.1" cy="82.7" r="0.44" fill="#4e3a26"/>
<circle cx="661.2" cy="71.1" r="0.79" fill="#8a6a44"/>
<circle cx="667.0" cy="68.6" r="0.48" fill="#221810"/>
<circle cx="673.4" cy="85.8" r="0.47" fill="#8a6a44"/>
<circle cx="668.9" cy="81.5" r="0.44" fill="#6b5236"/>
<circle cx="674.9" cy="79.9" r="0.77" fill="#221810"/>
<circle cx="671.2" cy="93.6" r="0.65" fill="#8a6a44"/>
<circle cx="679.1" cy="86.4" r="0.57" fill="#221810"/>
<circle cx="672.6" cy="92.0" r="0.91" fill="#221810"/>
<circle cx="674.6" cy="66.3" r="0.76" fill="#8a6a44"/>
<circle cx="678.2" cy="68.9" r="0.74" fill="#6b5236"/>
<circle cx="683.1" cy="66.5" r="0.79" fill="#221810"/>
<circle cx="668.2" cy="75.2" r="0.75" fill="#4e3a26"/>
<circle cx="661.7" cy="67.0" r="0.59" fill="#6b5236"/>
<circle cx="661.5" cy="86.4" r="0.85" fill="#4e3a26"/>
<circle cx="666.8" cy="76.3" r="0.87" fill="#6b5236"/>
<circle cx="682.6" cy="75.4" r="0.83" fill="#4e3a26"/>
<circle cx="661.4" cy="88.6" r="0.49" fill="#8a6a44"/>
<circle cx="669.5" cy="93.3" r="0.75" fill="#8a6a44"/>
<circle cx="670.8" cy="81.6" r="1.02" fill="#4e3a26"/>
<circle cx="680.7" cy="72.9" r="0.69" fill="#221810"/>
<circle cx="676.4" cy="76.2" r="0.56" fill="#6b5236"/>
<circle cx="664.2" cy="71.4" r="0.56" fill="#4e3a26"/>
<circle cx="679.9" cy="69.8" r="0.60" fill="#8a6a44"/>
<circle cx="670.1" cy="75.8" r="0.80" fill="#8a6a44"/>
<circle cx="676.6" cy="80.5" r="0.83" fill="#6b5236"/>
<circle cx="671.0" cy="91.9" r="1.07" fill="#4e3a26"/>
<circle cx="669.6" cy="76.6" r="0.74" fill="#4e3a26"/>
<circle cx="661.5" cy="66.2" r="0.55" fill="#8a6a44"/>
<circle cx="662.6" cy="83.2" r="0.47" fill="#8a6a44"/>
<circle cx="672.9" cy="94.4" r="0.83" fill="#6b5236"/>
<circle cx="681.0" cy="83.7" r="0.50" fill="#221810"/>
<circle cx="682.9" cy="83.3" r="0.73" fill="#6b5236"/>
<circle cx="680.4" cy="95.8" r="0.73" fill="#4e3a26"/>
<circle cx="667.5" cy="68.6" r="0.92" fill="#221810"/>
<circle cx="671.5" cy="86.1" r="0.76" fill="#8a6a44"/>
<path d="M615.20,43.40 C618.23,40.62 625.33,35.73 630.40,32.70 C635.47,29.67 641.55,26.35 645.60,25.20 C649.65,24.05 651.67,24.28 654.70,25.80 C657.73,27.32 660.77,31.37 663.80,34.30 C666.83,37.23 669.37,41.13 672.90,43.40 C676.43,45.67 682.98,44.63 685.00,47.90 C687.02,51.17 687.02,60.72 685.00,63.00 C682.98,65.28 676.43,60.83 672.90,61.60 C669.37,62.37 666.58,65.33 663.80,67.60 C661.02,69.87 659.23,73.43 656.20,75.20 C653.17,76.97 649.90,77.95 645.60,78.20 C641.30,78.45 634.45,75.93 630.40,76.70 C626.35,77.47 623.58,80.52 621.30,82.80 C619.02,85.08 618.22,90.40 616.70,90.40 C615.18,90.40 613.20,87.10 612.20,82.80 C611.20,78.50 610.70,70.17 610.70,64.60 C610.70,59.03 611.45,52.93 612.20,49.40 C612.95,45.87 612.17,46.18 615.20,43.40Z" fill="url(#lf3)"/>
<path d="M615.20,43.40 C618.23,40.62 625.33,35.73 630.40,32.70 C635.47,29.67 641.55,26.35 645.60,25.20 C649.65,24.05 651.67,24.28 654.70,25.80 C657.73,27.32 660.77,31.37 663.80,34.30 C666.83,37.23 669.37,41.13 672.90,43.40 C676.43,45.67 682.98,44.63 685.00,47.90 C687.02,51.17 687.02,60.72 685.00,63.00 C682.98,65.28 676.43,60.83 672.90,61.60 C669.37,62.37 666.58,65.33 663.80,67.60 C661.02,69.87 659.23,73.43 656.20,75.20 C653.17,76.97 649.90,77.95 645.60,78.20 C641.30,78.45 634.45,75.93 630.40,76.70 C626.35,77.47 623.58,80.52 621.30,82.80 C619.02,85.08 618.22,90.40 616.70,90.40 C615.18,90.40 613.20,87.10 612.20,82.80 C611.20,78.50 610.70,70.17 610.70,64.60 C610.70,59.03 611.45,52.93 612.20,49.40 C612.95,45.87 612.17,46.18 615.20,43.40Z" fill="#000" filter="url(#tx3)"/>
<path d="M615.20,43.40 C618.23,40.62 625.33,35.73 630.40,32.70 C635.47,29.67 641.55,26.35 645.60,25.20 C649.65,24.05 651.67,24.28 654.70,25.80 C657.73,27.32 660.77,31.37 663.80,34.30 C666.83,37.23 669.37,41.13 672.90,43.40 C676.43,45.67 682.98,44.63 685.00,47.90 C687.02,51.17 687.02,60.72 685.00,63.00 C682.98,65.28 676.43,60.83 672.90,61.60 C669.37,62.37 666.58,65.33 663.80,67.60 C661.02,69.87 659.23,73.43 656.20,75.20 C653.17,76.97 649.90,77.95 645.60,78.20 C641.30,78.45 634.45,75.93 630.40,76.70 C626.35,77.47 623.58,80.52 621.30,82.80 C619.02,85.08 618.22,90.40 616.70,90.40 C615.18,90.40 613.20,87.10 612.20,82.80 C611.20,78.50 610.70,70.17 610.70,64.60 C610.70,59.03 611.45,52.93 612.20,49.40 C612.95,45.87 612.17,46.18 615.20,43.40Z" fill="#000" filter="url(#tl3)"/>
<path d="M613,72 C622,62 630,54 640,51 C655,49 670,52 685,56" fill="none" stroke="#a8d088" stroke-width="1.0" opacity="0.55"/>
<path d="M640,50 L648,30 M628,56 L624,40 M655,49 L664,36 M668,52 L676,44 M634,52 L630,74 M650,50 L646,76 M664,52 L662,66" fill="none" stroke="#90c474" stroke-width="0.6" opacity="0.6"/>
<filter id="blur1" x="-50%" y="-50%" width="200%" height="200%"><feGaussianBlur stdDeviation="0.5"/></filter>
<g filter="url(#blur1)">
<circle cx="646" cy="30" r="1.76" fill="#d4d8c8" opacity="0.75"/>
<circle cx="650" cy="33" r="1.42" fill="#d4d8c8" opacity="0.75"/>
<circle cx="654" cy="31" r="1.12" fill="#d4d8c8" opacity="0.75"/>
<circle cx="649" cy="37" r="1.43" fill="#d4d8c8" opacity="0.75"/>
<circle cx="656" cy="37" r="1.02" fill="#d4d8c8" opacity="0.75"/>
<circle cx="660" cy="40" r="1.42" fill="#d4d8c8" opacity="0.75"/>
<circle cx="641" cy="40" r="1.78" fill="#d4d8c8" opacity="0.75"/>
<circle cx="645" cy="44" r="1.69" fill="#d4d8c8" opacity="0.75"/>
<circle cx="653" cy="45" r="1.56" fill="#d4d8c8" opacity="0.75"/>
<circle cx="662" cy="48" r="1.21" fill="#d4d8c8" opacity="0.75"/>
<circle cx="637" cy="51" r="1.29" fill="#d4d8c8" opacity="0.75"/>
<circle cx="648" cy="56" r="1.13" fill="#d4d8c8" opacity="0.75"/>
<circle cx="642" cy="61" r="1.62" fill="#d4d8c8" opacity="0.75"/>
<circle cx="652" cy="62" r="1.43" fill="#d4d8c8" opacity="0.75"/>
<circle cx="658" cy="66" r="1.62" fill="#d4d8c8" opacity="0.75"/>
<circle cx="630" cy="58" r="1.26" fill="#d4d8c8" opacity="0.75"/>
<circle cx="665" cy="43" r="1.18" fill="#d4d8c8" opacity="0.75"/>
<circle cx="663" cy="57" r="1.65" fill="#d4d8c8" opacity="0.75"/>
<circle cx="627" cy="66" r="1.79" fill="#d4d8c8" opacity="0.75"/>
<circle cx="634" cy="45" r="1.68" fill="#d4d8c8" opacity="0.75"/>
<circle cx="657" cy="52" r="1.64" fill="#d4d8c8" opacity="0.75"/>
<circle cx="647" cy="50" r="1.65" fill="#d4d8c8" opacity="0.75"/>
<circle cx="669" cy="50" r="1.59" fill="#d4d8c8" opacity="0.75"/>
<circle cx="622" cy="70" r="1.18" fill="#d4d8c8" opacity="0.75"/>
</g>
<path d="M672,75 L676,68 L684,62" fill="none" stroke="#6aa048" stroke-width="1.5"/>
<rect x="648" y="103.1" width="34" height="1.8" fill="#ececec"/>
</g>
<text x="-0.20" y="184.30" font-size="10.5" text-anchor="start" font-weight="bold" fill="#000" >d</text>
<rect x="29.8" y="181.3" width="152.6" height="7.3" fill="#069c70"/>
<line x1="29.60" y1="189.20" x2="29.60" y2="312.80" stroke="#3a3a3a" stroke-width="0.9" />
<line x1="29.15" y1="312.35" x2="183.30" y2="312.35" stroke="#3a3a3a" stroke-width="0.9" />
<line x1="27.40" y1="285.57" x2="29.60" y2="285.57" stroke="#3a3a3a" stroke-width="0.9" />
<text x="25.20" y="288.67" font-size="8.1" text-anchor="end" font-weight="normal" fill="#231f20" >10</text>
<line x1="27.40" y1="244.57" x2="29.60" y2="244.57" stroke="#3a3a3a" stroke-width="0.9" />
<text x="25.20" y="247.67" font-size="8.1" text-anchor="end" font-weight="normal" fill="#231f20" >25</text>
<line x1="27.40" y1="203.57" x2="29.60" y2="203.57" stroke="#3a3a3a" stroke-width="0.9" />
<text x="25.20" y="206.67" font-size="8.1" text-anchor="end" font-weight="normal" fill="#231f20" >40</text>
<line x1="32.60" y1="312.35" x2="32.60" y2="315.30" stroke="#3a3a3a" stroke-width="0.9" />
<text x="32.60" y="325.20" font-size="8.1" text-anchor="middle" font-weight="normal" fill="#231f20" >0</text>
<line x1="69.35" y1="312.35" x2="69.35" y2="315.30" stroke="#3a3a3a" stroke-width="0.9" />
<text x="69.35" y="325.20" font-size="8.1" text-anchor="middle" font-weight="normal" fill="#231f20" >6</text>
<line x1="106.10" y1="312.35" x2="106.10" y2="315.30" stroke="#3a3a3a" stroke-width="0.9" />
<text x="106.10" y="325.20" font-size="8.1" text-anchor="middle" font-weight="normal" fill="#231f20" >12</text>
<line x1="142.85" y1="312.35" x2="142.85" y2="315.30" stroke="#3a3a3a" stroke-width="0.9" />
<text x="142.85" y="325.20" font-size="8.1" text-anchor="middle" font-weight="normal" fill="#231f20" >18</text>
<line x1="179.60" y1="312.35" x2="179.60" y2="315.30" stroke="#3a3a3a" stroke-width="0.9" />
<text x="179.60" y="325.20" font-size="8.1" text-anchor="middle" font-weight="normal" fill="#231f20" >24</text>
<text x="107.40" y="333.40" font-size="8.1" text-anchor="middle" font-weight="normal" fill="#231f20" >Time (h)</text>
<text x="0" y="0" transform="translate(5.00,253.30) rotate(-90)" font-size="8.0" text-anchor="middle" font-weight="normal" fill="#231f20" >Relative ion leakage (%)</text>
<path d="M32.60,303.61 L38.73,302.79 L57.10,303.61 L81.60,303.06 L118.35,302.51 L148.97,301.69 L179.60,302.24" fill="none" stroke="#13a07a" stroke-width="1.1" stroke-linejoin="round" stroke-linecap="round" />
<path d="M32.60,304.15 L38.73,293.49 L57.10,282.56 L81.60,275.73 L118.35,263.97 L148.97,244.29 L179.60,226.53" fill="none" stroke="#e9a10a" stroke-width="1.1" stroke-linejoin="round" stroke-linecap="round" />
<path d="M32.60,303.88 L38.73,297.05 L57.10,296.23 L81.60,291.58 L118.35,277.09 L148.97,217.78 L179.60,199.47" fill="none" stroke="#1d12c8" stroke-width="1.1" stroke-linejoin="round" stroke-linecap="round" />
<line x1="32.60" y1="303.33" x2="32.60" y2="304.97" stroke="#e9a10a" stroke-width="0.9" />
<line x1="31.30" y1="303.33" x2="33.90" y2="303.33" stroke="#e9a10a" stroke-width="0.9" />
<line x1="31.30" y1="304.97" x2="33.90" y2="304.97" stroke="#e9a10a" stroke-width="0.9" />
<line x1="38.73" y1="291.85" x2="38.73" y2="295.13" stroke="#e9a10a" stroke-width="0.9" />
<line x1="37.43" y1="291.85" x2="40.02" y2="291.85" stroke="#e9a10a" stroke-width="0.9" />
<line x1="37.43" y1="295.13" x2="40.02" y2="295.13" stroke="#e9a10a" stroke-width="0.9" />
<line x1="57.10" y1="281.19" x2="57.10" y2="283.93" stroke="#e9a10a" stroke-width="0.9" />
<line x1="55.80" y1="281.19" x2="58.40" y2="281.19" stroke="#e9a10a" stroke-width="0.9" />
<line x1="55.80" y1="283.93" x2="58.40" y2="283.93" stroke="#e9a10a" stroke-width="0.9" />
<line x1="81.60" y1="274.36" x2="81.60" y2="277.09" stroke="#e9a10a" stroke-width="0.9" />
<line x1="80.30" y1="274.36" x2="82.90" y2="274.36" stroke="#e9a10a" stroke-width="0.9" />
<line x1="80.30" y1="277.09" x2="82.90" y2="277.09" stroke="#e9a10a" stroke-width="0.9" />
<line x1="118.35" y1="261.51" x2="118.35" y2="266.43" stroke="#e9a10a" stroke-width="0.9" />
<line x1="117.05" y1="261.51" x2="119.65" y2="261.51" stroke="#e9a10a" stroke-width="0.9" />
<line x1="117.05" y1="266.43" x2="119.65" y2="266.43" stroke="#e9a10a" stroke-width="0.9" />
<line x1="148.97" y1="241.56" x2="148.97" y2="247.03" stroke="#e9a10a" stroke-width="0.9" />
<line x1="147.67" y1="241.56" x2="150.28" y2="241.56" stroke="#e9a10a" stroke-width="0.9" />
<line x1="147.67" y1="247.03" x2="150.28" y2="247.03" stroke="#e9a10a" stroke-width="0.9" />
<line x1="179.60" y1="223.79" x2="179.60" y2="229.26" stroke="#e9a10a" stroke-width="0.9" />
<line x1="178.30" y1="223.79" x2="180.90" y2="223.79" stroke="#e9a10a" stroke-width="0.9" />
<line x1="178.30" y1="229.26" x2="180.90" y2="229.26" stroke="#e9a10a" stroke-width="0.9" />
<line x1="32.60" y1="303.06" x2="32.60" y2="304.70" stroke="#1d12c8" stroke-width="0.9" />
<line x1="31.30" y1="303.06" x2="33.90" y2="303.06" stroke="#1d12c8" stroke-width="0.9" />
<line x1="31.30" y1="304.70" x2="33.90" y2="304.70" stroke="#1d12c8" stroke-width="0.9" />
<line x1="38.73" y1="295.95" x2="38.73" y2="298.14" stroke="#1d12c8" stroke-width="0.9" />
<line x1="37.43" y1="295.95" x2="40.02" y2="295.95" stroke="#1d12c8" stroke-width="0.9" />
<line x1="37.43" y1="298.14" x2="40.02" y2="298.14" stroke="#1d12c8" stroke-width="0.9" />
<line x1="57.10" y1="295.13" x2="57.10" y2="297.32" stroke="#1d12c8" stroke-width="0.9" />
<line x1="55.80" y1="295.13" x2="58.40" y2="295.13" stroke="#1d12c8" stroke-width="0.9" />
<line x1="55.80" y1="297.32" x2="58.40" y2="297.32" stroke="#1d12c8" stroke-width="0.9" />
<line x1="81.60" y1="290.49" x2="81.60" y2="292.67" stroke="#1d12c8" stroke-width="0.9" />
<line x1="80.30" y1="290.49" x2="82.90" y2="290.49" stroke="#1d12c8" stroke-width="0.9" />
<line x1="80.30" y1="292.67" x2="82.90" y2="292.67" stroke="#1d12c8" stroke-width="0.9" />
<line x1="118.35" y1="275.73" x2="118.35" y2="278.46" stroke="#1d12c8" stroke-width="0.9" />
<line x1="117.05" y1="275.73" x2="119.65" y2="275.73" stroke="#1d12c8" stroke-width="0.9" />
<line x1="117.05" y1="278.46" x2="119.65" y2="278.46" stroke="#1d12c8" stroke-width="0.9" />
<line x1="148.97" y1="214.50" x2="148.97" y2="221.06" stroke="#1d12c8" stroke-width="0.9" />
<line x1="147.67" y1="214.50" x2="150.28" y2="214.50" stroke="#1d12c8" stroke-width="0.9" />
<line x1="147.67" y1="221.06" x2="150.28" y2="221.06" stroke="#1d12c8" stroke-width="0.9" />
<line x1="179.60" y1="195.09" x2="179.60" y2="203.84" stroke="#1d12c8" stroke-width="0.9" />
<line x1="178.30" y1="195.09" x2="180.90" y2="195.09" stroke="#1d12c8" stroke-width="0.9" />
<line x1="178.30" y1="203.84" x2="180.90" y2="203.84" stroke="#1d12c8" stroke-width="0.9" />
<path d="M32.60,301.40 L35.10,306.03 L30.10,306.03Z" fill="#e9a10a"/>
<path d="M38.73,290.74 L41.23,295.37 L36.23,295.37Z" fill="#e9a10a"/>
<path d="M57.10,279.81 L59.60,284.44 L54.60,284.44Z" fill="#e9a10a"/>
<path d="M81.60,272.98 L84.10,277.60 L79.10,277.60Z" fill="#e9a10a"/>
<path d="M118.35,261.22 L120.85,265.85 L115.85,265.85Z" fill="#e9a10a"/>
<path d="M148.97,241.54 L151.47,246.17 L146.47,246.17Z" fill="#e9a10a"/>
<path d="M179.60,223.78 L182.10,228.40 L177.10,228.40Z" fill="#e9a10a"/>
<path d="M32.60,301.68 L34.80,303.88 L32.60,306.08 L30.40,303.88Z" fill="#1d12c8"/>
<path d="M38.73,294.85 L40.93,297.05 L38.73,299.25 L36.52,297.05Z" fill="#1d12c8"/>
<path d="M57.10,294.03 L59.30,296.23 L57.10,298.43 L54.90,296.23Z" fill="#1d12c8"/>
<path d="M81.60,289.38 L83.80,291.58 L81.60,293.78 L79.40,291.58Z" fill="#1d12c8"/>
<path d="M118.35,274.89 L120.55,277.09 L118.35,279.29 L116.15,277.09Z" fill="#1d12c8"/>
<path d="M148.97,215.58 L151.17,217.78 L148.97,219.98 L146.78,217.78Z" fill="#1d12c8"/>
<path d="M179.60,197.27 L181.80,199.47 L179.60,201.67 L177.40,199.47Z" fill="#1d12c8"/>
<rect x="30.45" y="301.46" width="4.30" height="4.30" fill="#13a07a"/>
<rect x="36.58" y="300.64" width="4.30" height="4.30" fill="#13a07a"/>
<rect x="54.95" y="301.46" width="4.30" height="4.30" fill="#13a07a"/>
<rect x="79.45" y="300.91" width="4.30" height="4.30" fill="#13a07a"/>
<rect x="116.20" y="300.36" width="4.30" height="4.30" fill="#13a07a"/>
<rect x="146.82" y="299.54" width="4.30" height="4.30" fill="#13a07a"/>
<rect x="177.45" y="300.09" width="4.30" height="4.30" fill="#13a07a"/>
<line x1="37.90" y1="199.00" x2="45.80" y2="199.00" stroke="#13a07a" stroke-width="1.2" />
<rect x="39.80" y="197.00" width="4.00" height="4.00" fill="#13a07a"/>
<line x1="37.90" y1="209.40" x2="45.80" y2="209.40" stroke="#e9a10a" stroke-width="1.2" />
<path d="M41.80,206.87 L44.10,211.12 L39.50,211.12Z" fill="#e9a10a"/>
<line x1="37.90" y1="220.00" x2="45.80" y2="220.00" stroke="#1d12c8" stroke-width="1.2" />
<path d="M41.80,218.00 L43.80,220.00 L41.80,222.00 L39.80,220.00Z" fill="#1d12c8"/>
<text x="48.60" y="201.80" font-size="8.1" text-anchor="start" font-weight="normal" fill="#231f20" >Ret-eYFP No. 1</text>
<text x="48.60" y="212.20" font-size="8.1" text-anchor="start" font-weight="normal" fill="#231f20" >Ret-ACR1 2.0 No. 1</text>
<text x="48.60" y="222.80" font-size="8.1" text-anchor="start" font-weight="normal" fill="#231f20" >Ret-XXM 2.0 No. 1</text>
<text x="199.00" y="145.30" font-size="10.5" text-anchor="start" font-weight="bold" fill="#000" >e</text>
<text x="262.80" y="145.20" font-size="8.1" text-anchor="middle" font-weight="normal" fill="#231f20" >0 h</text>
<text x="307.50" y="145.20" font-size="8.1" text-anchor="middle" font-weight="normal" fill="#231f20" >1 h</text>
<text x="344.40" y="145.20" font-size="8.1" text-anchor="middle" font-weight="normal" fill="#231f20" >4 h</text>
<text x="381.30" y="145.20" font-size="8.1" text-anchor="middle" font-weight="normal" fill="#231f20" >8 h</text>
<text x="415.60" y="145.20" font-size="8.1" text-anchor="middle" font-weight="normal" fill="#231f20" >24 h</text>
<text x="0" y="0" transform="translate(225.20,176.80) rotate(-90)" font-size="8.1" text-anchor="middle" font-weight="normal" fill="#231f20" >Ret-eYFP</text>
<text x="0" y="0" transform="translate(234.20,176.80) rotate(-90)" font-size="8.1" text-anchor="middle" font-weight="normal" fill="#231f20" >#1</text>
<text x="0" y="0" transform="translate(225.20,236.50) rotate(-90)" font-size="8.1" text-anchor="middle" font-weight="normal" fill="#231f20" >Ret-ACR1 2.0</text>
<text x="0" y="0" transform="translate(234.20,236.50) rotate(-90)" font-size="8.1" text-anchor="middle" font-weight="normal" fill="#231f20" ># 1</text>
<text x="0" y="0" transform="translate(225.20,296.30) rotate(-90)" font-size="8.1" text-anchor="middle" font-weight="normal" fill="#231f20" >Ret-XXM 2.0</text>
<text x="0" y="0" transform="translate(234.20,296.30) rotate(-90)" font-size="8.1" text-anchor="middle" font-weight="normal" fill="#231f20" ># 1</text>
<defs>
<linearGradient id="ebg" x1="0" y1="0" x2="0" y2="1"><stop offset="0" stop-color="#c0d3db"/><stop offset="1" stop-color="#b9ced8"/></linearGradient>
<filter id="blur2" x="-50%" y="-50%" width="200%" height="200%"><feGaussianBlur stdDeviation="1.5"/></filter>
</defs>
<rect x="237.3" y="147.5" width="204.7" height="57.9" fill="url(#ebg)"/>
<rect x="237.3" y="207.7" width="204.7" height="57.5" fill="url(#ebg)"/>
<rect x="237.3" y="267.6" width="204.7" height="57.0" fill="url(#ebg)"/>
<path d="M264.80,151.00 L259.19,152.61 L256.89,154.22 L255.16,155.83 L253.75,157.44 L252.56,159.05 L251.54,160.66 L250.66,162.27 L249.92,163.88 L249.30,165.48 L248.79,167.09 L248.39,168.70 L248.09,170.31 L247.90,171.92 L247.81,173.53 L247.83,175.14 L248.00,176.75 L248.32,178.36 L248.80,179.97 L249.41,181.58 L250.17,183.19 L251.05,184.80 L252.05,186.41 L253.16,188.02 L254.35,189.62 L255.63,191.23 L256.96,192.84 L258.33,194.45 L259.73,196.06 L261.12,197.67 L262.47,199.28 L263.75,200.89 L264.80,202.50 L265.85,200.89 L267.13,199.28 L268.48,197.67 L269.87,196.06 L271.27,194.45 L272.64,192.84 L273.97,191.23 L275.25,189.62 L276.44,188.02 L277.55,186.41 L278.55,184.80 L279.43,183.19 L280.19,181.58 L280.80,179.97 L281.28,178.36 L281.60,176.75 L281.77,175.14 L281.79,173.53 L281.70,171.92 L281.51,170.31 L281.21,168.70 L280.81,167.09 L280.30,165.48 L279.68,163.88 L278.94,162.27 L278.06,160.66 L277.04,159.05 L275.85,157.44 L274.44,155.83 L272.71,154.22 L270.41,152.61Z" fill="#dcdbc8" stroke="#c6b28a" stroke-width="0.5" stroke-opacity="0.8"/>
<path d="M264.8,153.0 L264.8,202.5 L264.8,204.3" fill="none" stroke="#c8aa68" stroke-width="0.8" opacity="0.85"/>
<path d="M264.8,163.9 L252.1,157.7 M264.8,163.9 L277.6,157.7 M264.8,171.6 L252.1,165.4 M264.8,171.6 L277.6,165.4 M264.8,179.3 L252.1,173.1 M264.8,179.3 L277.6,173.1 M264.8,187.1 L252.1,180.9 M264.8,187.1 L277.6,180.9" fill="none" stroke="#cdb586" stroke-width="0.35" opacity="0.35"/>
<path d="M307.40,157.10 L302.29,157.63 L300.05,158.65 L298.31,159.76 L296.84,160.92 L295.57,162.12 L294.44,163.33 L293.45,164.58 L292.56,165.84 L291.79,167.11 L291.10,168.41 L290.52,169.72 L290.02,171.05 L289.62,172.39 L289.30,173.75 L289.08,175.12 L288.99,176.52 L289.04,177.94 L289.21,179.38 L289.51,180.85 L289.93,182.34 L290.46,183.84 L291.09,185.36 L291.81,186.90 L292.62,188.45 L293.49,190.02 L294.41,191.59 L295.36,193.17 L296.34,194.75 L297.31,196.33 L298.25,197.91 L299.12,199.47 L299.80,201.00 L300.95,199.79 L302.30,198.61 L303.72,197.44 L305.16,196.28 L306.61,195.11 L308.04,193.95 L309.44,192.78 L310.78,191.60 L312.06,190.41 L313.26,189.20 L314.37,187.98 L315.37,186.74 L316.26,185.48 L317.04,184.20 L317.69,182.90 L318.21,181.58 L318.59,180.23 L318.85,178.86 L319.01,177.48 L319.08,176.08 L319.06,174.66 L318.95,173.23 L318.74,171.78 L318.44,170.31 L318.03,168.83 L317.51,167.33 L316.86,165.80 L316.06,164.25 L315.07,162.67 L313.80,161.03 L312.04,159.32Z" fill="#dcdac6" stroke="#c6b28a" stroke-width="0.5" stroke-opacity="0.8"/>
<path d="M307.4,159.1 L299.8,201.0 L299.6,202.8" fill="none" stroke="#c8aa68" stroke-width="0.8" opacity="0.85"/>
<path d="M305.5,168.1 L295.3,160.9 M305.5,168.1 L317.5,164.7 M304.4,174.7 L294.2,167.5 M304.4,174.7 L316.4,171.3 M303.2,181.2 L293.0,174.1 M303.2,181.2 L315.2,177.9 M302.1,187.8 L291.9,180.6 M302.1,187.8 L314.1,184.5" fill="none" stroke="#cdb586" stroke-width="0.35" opacity="0.35"/>
<path d="M343.80,153.50 L338.85,154.44 L336.72,155.69 L335.09,157.00 L333.72,158.33 L332.54,159.69 L331.50,161.06 L330.60,162.45 L329.80,163.84 L329.11,165.25 L328.51,166.68 L328.00,168.11 L327.59,169.55 L327.26,171.00 L327.02,172.46 L326.87,173.93 L326.86,175.41 L326.97,176.91 L327.21,178.43 L327.58,179.95 L328.06,181.49 L328.65,183.05 L329.34,184.61 L330.12,186.18 L330.98,187.76 L331.91,189.35 L332.88,190.95 L333.89,192.55 L334.92,194.15 L335.94,195.75 L336.94,197.34 L337.86,198.93 L338.60,200.50 L339.66,199.13 L340.91,197.78 L342.23,196.44 L343.58,195.10 L344.93,193.77 L346.27,192.43 L347.57,191.09 L348.82,189.74 L350.00,188.38 L351.11,187.02 L352.12,185.64 L353.04,184.26 L353.85,182.86 L354.54,181.45 L355.10,180.02 L355.54,178.59 L355.85,177.13 L356.03,175.67 L356.11,174.19 L356.11,172.70 L356.02,171.21 L355.84,169.70 L355.57,168.18 L355.20,166.66 L354.73,165.12 L354.15,163.57 L353.44,162.00 L352.58,160.42 L351.54,158.82 L350.23,157.18 L348.43,155.50Z" fill="#dddcca" stroke="#c6b28a" stroke-width="0.5" stroke-opacity="0.8"/>
<path d="M343.8,155.5 L338.6,200.5 L338.5,202.3" fill="none" stroke="#c8aa68" stroke-width="0.8" opacity="0.85"/>
<path d="M342.5,165.2 L332.2,158.4 M342.5,165.2 L354.0,160.8 M341.7,172.3 L331.5,165.5 M341.7,172.3 L353.2,167.9 M340.9,179.3 L330.7,172.5 M340.9,179.3 L352.4,174.9 M340.2,186.4 L329.9,179.6 M340.2,186.4 L351.7,182.0" fill="none" stroke="#cdb586" stroke-width="0.35" opacity="0.35"/>
<path d="M378.70,153.50 L373.88,154.89 L371.91,156.28 L370.42,157.67 L369.21,159.06 L368.18,160.45 L367.31,161.84 L366.56,163.23 L365.92,164.62 L365.39,166.02 L364.95,167.41 L364.61,168.80 L364.35,170.19 L364.19,171.58 L364.11,172.97 L364.12,174.36 L364.27,175.75 L364.55,177.14 L364.96,178.53 L365.49,179.92 L366.13,181.31 L366.89,182.70 L367.75,184.09 L368.70,185.48 L369.73,186.88 L370.82,188.27 L371.97,189.66 L373.15,191.05 L374.34,192.44 L375.54,193.83 L376.70,195.22 L377.79,196.61 L378.70,198.00 L379.61,196.61 L380.70,195.22 L381.86,193.83 L383.06,192.44 L384.25,191.05 L385.43,189.66 L386.58,188.27 L387.67,186.88 L388.70,185.48 L389.65,184.09 L390.51,182.70 L391.27,181.31 L391.91,179.92 L392.44,178.53 L392.85,177.14 L393.13,175.75 L393.28,174.36 L393.29,172.97 L393.21,171.58 L393.05,170.19 L392.79,168.80 L392.45,167.41 L392.01,166.02 L391.48,164.62 L390.84,163.23 L390.09,161.84 L389.22,160.45 L388.19,159.06 L386.98,157.67 L385.49,156.28 L383.52,154.89Z" fill="#dcdac6" stroke="#c6b28a" stroke-width="0.5" stroke-opacity="0.8"/>
<path d="M378.7,155.5 L378.7,198.0 L378.7,199.8" fill="none" stroke="#c8aa68" stroke-width="0.8" opacity="0.85"/>
<path d="M378.7,164.6 L367.8,159.3 M378.7,164.6 L389.6,159.3 M378.7,171.3 L367.8,166.0 M378.7,171.3 L389.6,166.0 M378.7,178.0 L367.8,172.6 M378.7,178.0 L389.6,172.6 M378.7,184.7 L367.8,179.3 M378.7,184.7 L389.6,179.3" fill="none" stroke="#cdb586" stroke-width="0.35" opacity="0.35"/>
<path d="M415.20,153.50 L409.89,154.56 L407.64,155.86 L405.92,157.20 L404.50,158.57 L403.28,159.95 L402.22,161.35 L401.29,162.75 L400.49,164.16 L399.80,165.59 L399.21,167.02 L398.72,168.46 L398.33,169.91 L398.04,171.36 L397.84,172.82 L397.74,174.29 L397.78,175.77 L397.97,177.27 L398.29,178.77 L398.75,180.28 L399.33,181.81 L400.03,183.34 L400.84,184.88 L401.75,186.43 L402.74,187.99 L403.81,189.55 L404.93,191.12 L406.09,192.68 L407.26,194.25 L408.43,195.83 L409.57,197.39 L410.64,198.95 L411.50,200.50 L412.59,199.11 L413.89,197.73 L415.26,196.36 L416.66,195.00 L418.07,193.63 L419.46,192.26 L420.81,190.89 L422.11,189.51 L423.33,188.13 L424.47,186.74 L425.51,185.35 L426.44,183.94 L427.26,182.53 L427.95,181.10 L428.50,179.67 L428.92,178.23 L429.19,176.77 L429.33,175.30 L429.36,173.83 L429.29,172.34 L429.13,170.85 L428.88,169.36 L428.52,167.85 L428.06,166.34 L427.49,164.81 L426.80,163.28 L425.97,161.74 L424.98,160.18 L423.78,158.61 L422.30,157.01 L420.28,155.38Z" fill="#dcd9c4" stroke="#c6b28a" stroke-width="0.5" stroke-opacity="0.8"/>
<path d="M415.2,155.5 L411.5,200.5 L411.4,202.3" fill="none" stroke="#c8aa68" stroke-width="0.8" opacity="0.85"/>
<path d="M414.3,165.2 L402.9,158.7 M414.3,165.2 L426.5,160.5 M413.7,172.3 L402.4,165.7 M413.7,172.3 L426.0,167.6 M413.2,179.3 L401.8,172.8 M413.2,179.3 L425.4,174.6 M412.6,186.4 L401.2,179.8 M412.6,186.4 L424.9,181.7" fill="none" stroke="#cdb586" stroke-width="0.35" opacity="0.35"/>
<path d="M269.40,210.50 L263.28,210.45 L260.56,211.27 L258.44,212.24 L256.65,213.29 L255.10,214.40 L253.74,215.57 L252.55,216.77 L251.50,218.01 L250.59,219.29 L249.82,220.60 L249.17,221.94 L248.65,223.31 L248.25,224.72 L247.98,226.16 L247.84,227.63 L247.82,229.13 L247.92,230.66 L248.13,232.22 L248.46,233.81 L248.89,235.43 L249.41,237.07 L250.02,238.73 L250.71,240.41 L251.46,242.11 L252.27,243.82 L253.12,245.54 L253.99,247.27 L254.87,249.00 L255.74,250.73 L256.57,252.45 L257.33,254.15 L257.90,255.80 L259.18,254.62 L260.66,253.49 L262.22,252.38 L263.80,251.27 L265.40,250.17 L267.00,249.07 L268.56,247.96 L270.09,246.84 L271.56,245.71 L272.97,244.56 L274.30,243.39 L275.54,242.20 L276.69,240.98 L277.73,239.74 L278.67,238.47 L279.48,237.17 L280.18,235.84 L280.75,234.48 L281.20,233.09 L281.53,231.66 L281.72,230.20 L281.79,228.72 L281.74,227.19 L281.55,225.64 L281.22,224.05 L280.75,222.42 L280.11,220.75 L279.28,219.03 L278.21,217.26 L276.80,215.39 L274.81,213.38Z" fill="#e2d9bc" stroke="#c6b28a" stroke-width="0.5" stroke-opacity="0.8"/>
<filter id="mf5" x="0" y="0" width="100%" height="100%" filterUnits="objectBoundingBox" color-interpolation-filters="sRGB"><feTurbulence type="fractalNoise" baseFrequency="0.1" numOctaves="3" seed="8" result="n"/><feColorMatrix in="n" type="matrix" values="0 0 0 0 0.784  0 0 0 0 0.659  0 0 0 0 0.439  0 0 0 3 -1.8" result="m"/><feComposite in="m" in2="SourceGraphic" operator="in"/></filter>
<path d="M269.40,210.50 L263.28,210.45 L260.56,211.27 L258.44,212.24 L256.65,213.29 L255.10,214.40 L253.74,215.57 L252.55,216.77 L251.50,218.01 L250.59,219.29 L249.82,220.60 L249.17,221.94 L248.65,223.31 L248.25,224.72 L247.98,226.16 L247.84,227.63 L247.82,229.13 L247.92,230.66 L248.13,232.22 L248.46,233.81 L248.89,235.43 L249.41,237.07 L250.02,238.73 L250.71,240.41 L251.46,242.11 L252.27,243.82 L253.12,245.54 L253.99,247.27 L254.87,249.00 L255.74,250.73 L256.57,252.45 L257.33,254.15 L257.90,255.80 L259.18,254.62 L260.66,253.49 L262.22,252.38 L263.80,251.27 L265.40,250.17 L267.00,249.07 L268.56,247.96 L270.09,246.84 L271.56,245.71 L272.97,244.56 L274.30,243.39 L275.54,242.20 L276.69,240.98 L277.73,239.74 L278.67,238.47 L279.48,237.17 L280.18,235.84 L280.75,234.48 L281.20,233.09 L281.53,231.66 L281.72,230.20 L281.79,228.72 L281.74,227.19 L281.55,225.64 L281.22,224.05 L280.75,222.42 L280.11,220.75 L279.28,219.03 L278.21,217.26 L276.80,215.39 L274.81,213.38Z" fill="#000" filter="url(#mf5)"/>
<path d="M269.4,212.5 L257.9,255.8 L257.7,257.6" fill="none" stroke="#c8aa68" stroke-width="0.8" opacity="0.85"/>
<path d="M266.5,221.8 L255.5,213.3 M266.5,221.8 L280.3,219.5 M264.8,228.6 L253.8,220.0 M264.8,228.6 L278.5,226.3 M263.1,235.4 L252.1,226.8 M263.1,235.4 L276.8,233.1 M261.3,242.2 L250.4,233.6 M261.3,242.2 L275.1,239.9" fill="none" stroke="#cdb586" stroke-width="0.35" opacity="0.35"/>
<path d="M301.30,211.10 L295.72,212.01 L293.35,213.24 L291.54,214.52 L290.04,215.84 L288.76,217.18 L287.65,218.53 L286.69,219.90 L285.87,221.28 L285.17,222.68 L284.59,224.09 L284.12,225.50 L283.77,226.93 L283.52,228.37 L283.39,229.82 L283.38,231.29 L283.51,232.76 L283.76,234.25 L284.13,235.75 L284.62,237.27 L285.22,238.79 L285.92,240.32 L286.72,241.87 L287.60,243.42 L288.55,244.98 L289.56,246.54 L290.61,248.11 L291.70,249.68 L292.79,251.26 L293.88,252.83 L294.93,254.40 L295.91,255.96 L296.70,257.50 L297.77,256.14 L299.04,254.80 L300.38,253.47 L301.76,252.14 L303.14,250.82 L304.51,249.49 L305.85,248.16 L307.15,246.82 L308.39,245.48 L309.55,244.13 L310.64,242.78 L311.63,241.41 L312.52,240.03 L313.30,238.65 L313.96,237.25 L314.49,235.84 L314.91,234.41 L315.19,232.98 L315.34,231.53 L315.38,230.07 L315.32,228.60 L315.14,227.11 L314.84,225.62 L314.43,224.12 L313.90,222.60 L313.23,221.07 L312.41,219.52 L311.41,217.96 L310.20,216.38 L308.68,214.76 L306.59,213.09Z" fill="#e0d5b4" stroke="#c6b28a" stroke-width="0.5" stroke-opacity="0.8"/>
<filter id="mf6" x="0" y="0" width="100%" height="100%" filterUnits="objectBoundingBox" color-interpolation-filters="sRGB"><feTurbulence type="fractalNoise" baseFrequency="0.12" numOctaves="3" seed="9" result="n"/><feColorMatrix in="n" type="matrix" values="0 0 0 0 0.722  0 0 0 0 0.565  0 0 0 0 0.353  0 0 0 3 -1.7" result="m"/><feComposite in="m" in2="SourceGraphic" operator="in"/></filter>
<path d="M301.30,211.10 L295.72,212.01 L293.35,213.24 L291.54,214.52 L290.04,215.84 L288.76,217.18 L287.65,218.53 L286.69,219.90 L285.87,221.28 L285.17,222.68 L284.59,224.09 L284.12,225.50 L283.77,226.93 L283.52,228.37 L283.39,229.82 L283.38,231.29 L283.51,232.76 L283.76,234.25 L284.13,235.75 L284.62,237.27 L285.22,238.79 L285.92,240.32 L286.72,241.87 L287.60,243.42 L288.55,244.98 L289.56,246.54 L290.61,248.11 L291.70,249.68 L292.79,251.26 L293.88,252.83 L294.93,254.40 L295.91,255.96 L296.70,257.50 L297.77,256.14 L299.04,254.80 L300.38,253.47 L301.76,252.14 L303.14,250.82 L304.51,249.49 L305.85,248.16 L307.15,246.82 L308.39,245.48 L309.55,244.13 L310.64,242.78 L311.63,241.41 L312.52,240.03 L313.30,238.65 L313.96,237.25 L314.49,235.84 L314.91,234.41 L315.19,232.98 L315.34,231.53 L315.38,230.07 L315.32,228.60 L315.14,227.11 L314.84,225.62 L314.43,224.12 L313.90,222.60 L313.23,221.07 L312.41,219.52 L311.41,217.96 L310.20,216.38 L308.68,214.76 L306.59,213.09Z" fill="#000" filter="url(#mf6)"/>
<path d="M301.3,213.1 L296.7,257.5 L296.6,259.3" fill="none" stroke="#c8aa68" stroke-width="0.8" opacity="0.85"/>
<path d="M300.1,222.7 L288.8,215.9 M300.1,222.7 L312.6,218.3 M299.5,229.7 L288.1,222.9 M299.5,229.7 L312.0,225.3 M298.8,236.6 L287.4,229.9 M298.8,236.6 L311.3,232.2 M298.1,243.6 L286.7,236.8 M298.1,243.6 L310.6,239.2" fill="none" stroke="#cdb586" stroke-width="0.35" opacity="0.35"/>
<path d="M349.90,211.10 L344.69,211.12 L342.27,212.03 L340.35,213.09 L338.70,214.23 L337.24,215.43 L335.95,216.69 L334.79,217.99 L333.75,219.32 L332.82,220.69 L332.00,222.10 L331.29,223.53 L330.69,225.01 L330.18,226.51 L329.78,228.04 L329.48,229.61 L329.28,231.21 L329.18,232.84 L329.18,234.50 L329.27,236.19 L329.44,237.91 L329.70,239.65 L330.02,241.41 L330.40,243.20 L330.84,245.00 L331.33,246.81 L331.84,248.63 L332.38,250.46 L332.93,252.30 L333.46,254.13 L333.97,255.95 L334.41,257.75 L334.70,259.50 L335.94,258.23 L337.33,257.00 L338.79,255.80 L340.27,254.60 L341.77,253.41 L343.26,252.22 L344.72,251.02 L346.16,249.80 L347.55,248.58 L348.88,247.34 L350.15,246.08 L351.36,244.79 L352.48,243.48 L353.52,242.15 L354.47,240.78 L355.32,239.39 L356.07,237.96 L356.72,236.51 L357.27,235.02 L357.71,233.49 L358.06,231.94 L358.30,230.35 L358.43,228.73 L358.45,227.08 L358.36,225.39 L358.15,223.66 L357.81,221.89 L357.30,220.07 L356.60,218.19 L355.63,216.22 L354.16,214.10Z" fill="#e0d6b6" stroke="#c6b28a" stroke-width="0.5" stroke-opacity="0.8"/>
<filter id="mf7" x="0" y="0" width="100%" height="100%" filterUnits="objectBoundingBox" color-interpolation-filters="sRGB"><feTurbulence type="fractalNoise" baseFrequency="0.12" numOctaves="3" seed="10" result="n"/><feColorMatrix in="n" type="matrix" values="0 0 0 0 0.690  0 0 0 0 0.502  0 0 0 0 0.282  0 0 0 3 -1.55" result="m"/><feComposite in="m" in2="SourceGraphic" operator="in"/></filter>
<path d="M349.90,211.10 L344.69,211.12 L342.27,212.03 L340.35,213.09 L338.70,214.23 L337.24,215.43 L335.95,216.69 L334.79,217.99 L333.75,219.32 L332.82,220.69 L332.00,222.10 L331.29,223.53 L330.69,225.01 L330.18,226.51 L329.78,228.04 L329.48,229.61 L329.28,231.21 L329.18,232.84 L329.18,234.50 L329.27,236.19 L329.44,237.91 L329.70,239.65 L330.02,241.41 L330.40,243.20 L330.84,245.00 L331.33,246.81 L331.84,248.63 L332.38,250.46 L332.93,252.30 L333.46,254.13 L333.97,255.95 L334.41,257.75 L334.70,259.50 L335.94,258.23 L337.33,257.00 L338.79,255.80 L340.27,254.60 L341.77,253.41 L343.26,252.22 L344.72,251.02 L346.16,249.80 L347.55,248.58 L348.88,247.34 L350.15,246.08 L351.36,244.79 L352.48,243.48 L353.52,242.15 L354.47,240.78 L355.32,239.39 L356.07,237.96 L356.72,236.51 L357.27,235.02 L357.71,233.49 L358.06,231.94 L358.30,230.35 L358.43,228.73 L358.45,227.08 L358.36,225.39 L358.15,223.66 L357.81,221.89 L357.30,220.07 L356.60,218.19 L355.63,216.22 L354.16,214.10Z" fill="#000" filter="url(#mf7)"/>
<path d="M349.9,213.1 L334.7,259.5 L334.4,261.3" fill="none" stroke="#c8aa68" stroke-width="0.8" opacity="0.85"/>
<path d="M346.1,223.2 L337.8,214.2 M346.1,223.2 L358.1,220.6 M343.8,230.5 L335.5,221.5 M343.8,230.5 L355.8,227.8 M341.5,237.7 L333.2,228.7 M341.5,237.7 L353.5,235.1 M339.3,245.0 L330.9,236.0 M339.3,245.0 L351.2,242.4" fill="none" stroke="#cdb586" stroke-width="0.35" opacity="0.35"/>
<path d="M374.20,209.60 L368.18,211.25 L365.72,212.91 L363.88,214.56 L362.39,216.21 L361.15,217.87 L360.10,219.52 L359.23,221.17 L358.52,222.82 L357.94,224.48 L357.51,226.13 L357.21,227.78 L357.04,229.44 L357.00,231.09 L357.10,232.74 L357.32,234.40 L357.67,236.05 L358.15,237.70 L358.75,239.36 L359.47,241.01 L360.29,242.66 L361.21,244.32 L362.23,245.97 L363.32,247.62 L364.48,249.28 L365.70,250.93 L366.96,252.58 L368.24,254.23 L369.54,255.89 L370.82,257.54 L372.07,259.19 L373.23,260.85 L374.20,262.50 L375.17,260.85 L376.33,259.19 L377.58,257.54 L378.86,255.89 L380.16,254.23 L381.44,252.58 L382.70,250.93 L383.92,249.28 L385.08,247.62 L386.17,245.97 L387.19,244.32 L388.11,242.66 L388.93,241.01 L389.65,239.36 L390.25,237.70 L390.73,236.05 L391.08,234.40 L391.30,232.74 L391.40,231.09 L391.36,229.44 L391.19,227.78 L390.89,226.13 L390.46,224.48 L389.88,222.82 L389.17,221.17 L388.30,219.52 L387.25,217.87 L386.01,216.21 L384.52,214.56 L382.68,212.91 L380.22,211.25Z" fill="#d0c098" stroke="#c6b28a" stroke-width="0.5" stroke-opacity="0.8"/>
<filter id="mf8" x="0" y="0" width="100%" height="100%" filterUnits="objectBoundingBox" color-interpolation-filters="sRGB"><feTurbulence type="fractalNoise" baseFrequency="0.14" numOctaves="3" seed="11" result="n"/><feColorMatrix in="n" type="matrix" values="0 0 0 0 0.557  0 0 0 0 0.376  0 0 0 0 0.157  0 0 0 3 -1.0" result="m"/><feComposite in="m" in2="SourceGraphic" operator="in"/></filter>
<path d="M374.20,209.60 L368.18,211.25 L365.72,212.91 L363.88,214.56 L362.39,216.21 L361.15,217.87 L360.10,219.52 L359.23,221.17 L358.52,222.82 L357.94,224.48 L357.51,226.13 L357.21,227.78 L357.04,229.44 L357.00,231.09 L357.10,232.74 L357.32,234.40 L357.67,236.05 L358.15,237.70 L358.75,239.36 L359.47,241.01 L360.29,242.66 L361.21,244.32 L362.23,245.97 L363.32,247.62 L364.48,249.28 L365.70,250.93 L366.96,252.58 L368.24,254.23 L369.54,255.89 L370.82,257.54 L372.07,259.19 L373.23,260.85 L374.20,262.50 L375.17,260.85 L376.33,259.19 L377.58,257.54 L378.86,255.89 L380.16,254.23 L381.44,252.58 L382.70,250.93 L383.92,249.28 L385.08,247.62 L386.17,245.97 L387.19,244.32 L388.11,242.66 L388.93,241.01 L389.65,239.36 L390.25,237.70 L390.73,236.05 L391.08,234.40 L391.30,232.74 L391.40,231.09 L391.36,229.44 L391.19,227.78 L390.89,226.13 L390.46,224.48 L389.88,222.82 L389.17,221.17 L388.30,219.52 L387.25,217.87 L386.01,216.21 L384.52,214.56 L382.68,212.91 L380.22,211.25Z" fill="#000" filter="url(#mf8)"/>
<path d="M374.2,222.8 Q364.7,247.9 364.7,251.9 L374.2,259.9 L383.7,251.9 Q383.7,247.9 374.2,222.8Z" fill="#e4dcb8" opacity="0.55" filter="url(#blur2)"/>
<path d="M374.2,211.6 L374.2,262.5 L374.2,264.3" fill="none" stroke="#c8aa68" stroke-width="0.8" opacity="0.85"/>
<path d="M374.2,222.8 L361.3,216.5 M374.2,222.8 L387.1,216.5 M374.2,230.8 L361.3,224.4 M374.2,230.8 L387.1,224.4 M374.2,238.7 L361.3,232.3 M374.2,238.7 L387.1,232.3 M374.2,246.6 L361.3,240.3 M374.2,246.6 L387.1,240.3" fill="none" stroke="#cdb586" stroke-width="0.35" opacity="0.35"/>
<path d="M418.20,216.50 L411.52,217.70 L408.77,219.02 L406.71,220.37 L405.05,221.73 L403.68,223.11 L402.55,224.48 L401.62,225.87 L400.88,227.26 L400.32,228.66 L399.93,230.07 L399.72,231.48 L399.66,232.89 L399.73,234.31 L399.93,235.74 L400.24,237.16 L400.66,238.59 L401.20,240.03 L401.85,241.47 L402.59,242.91 L403.43,244.35 L404.35,245.80 L405.35,247.25 L406.42,248.70 L407.54,250.16 L408.71,251.62 L409.91,253.07 L411.13,254.53 L412.35,255.99 L413.55,257.44 L414.72,258.90 L415.81,260.35 L416.70,261.80 L417.68,260.42 L418.87,259.04 L420.13,257.66 L421.43,256.29 L422.74,254.91 L424.06,253.54 L425.35,252.17 L426.61,250.79 L427.83,249.41 L428.99,248.04 L430.08,246.65 L431.10,245.27 L432.03,243.88 L432.87,242.49 L433.60,241.10 L434.24,239.71 L434.76,238.31 L435.16,236.90 L435.45,235.49 L435.61,234.08 L435.65,232.67 L435.53,231.25 L435.23,229.82 L434.77,228.39 L434.12,226.95 L433.29,225.50 L432.25,224.05 L430.97,222.59 L429.41,221.12 L427.44,219.64 L424.79,218.14Z" fill="#ccb890" stroke="#c6b28a" stroke-width="0.5" stroke-opacity="0.8"/>
<filter id="mf9" x="0" y="0" width="100%" height="100%" filterUnits="objectBoundingBox" color-interpolation-filters="sRGB"><feTurbulence type="fractalNoise" baseFrequency="0.22" numOctaves="3" seed="12" result="n"/><feColorMatrix in="n" type="matrix" values="0 0 0 0 0.502  0 0 0 0 0.314  0 0 0 0 0.094  0 0 0 3 -0.85" result="m"/><feComposite in="m" in2="SourceGraphic" operator="in"/></filter>
<path d="M418.20,216.50 L411.52,217.70 L408.77,219.02 L406.71,220.37 L405.05,221.73 L403.68,223.11 L402.55,224.48 L401.62,225.87 L400.88,227.26 L400.32,228.66 L399.93,230.07 L399.72,231.48 L399.66,232.89 L399.73,234.31 L399.93,235.74 L400.24,237.16 L400.66,238.59 L401.20,240.03 L401.85,241.47 L402.59,242.91 L403.43,244.35 L404.35,245.80 L405.35,247.25 L406.42,248.70 L407.54,250.16 L408.71,251.62 L409.91,253.07 L411.13,254.53 L412.35,255.99 L413.55,257.44 L414.72,258.90 L415.81,260.35 L416.70,261.80 L417.68,260.42 L418.87,259.04 L420.13,257.66 L421.43,256.29 L422.74,254.91 L424.06,253.54 L425.35,252.17 L426.61,250.79 L427.83,249.41 L428.99,248.04 L430.08,246.65 L431.10,245.27 L432.03,243.88 L432.87,242.49 L433.60,241.10 L434.24,239.71 L434.76,238.31 L435.16,236.90 L435.45,235.49 L435.61,234.08 L435.65,232.67 L435.53,231.25 L435.23,229.82 L434.77,228.39 L434.12,226.95 L433.29,225.50 L432.25,224.05 L430.97,222.59 L429.41,221.12 L427.44,219.64 L424.79,218.14Z" fill="#000" filter="url(#mf9)"/>
<path d="M417.8,227.8 Q407.1,248.4 407.1,252.4 L416.8,259.5 L426.9,253.1 Q426.9,249.1 417.8,227.8Z" fill="#e4dcb8" opacity="0.55" filter="url(#blur2)"/>
<path d="M418.2,218.5 L416.7,261.8 L416.7,263.6" fill="none" stroke="#c8aa68" stroke-width="0.8" opacity="0.85"/>
<path d="M417.8,227.8 L404.5,221.9 M417.8,227.8 L431.5,222.8 M417.6,234.6 L404.3,228.7 M417.6,234.6 L431.3,229.6 M417.4,241.4 L404.1,235.5 M417.4,241.4 L431.0,236.4 M417.1,248.2 L403.8,242.3 M417.1,248.2 L430.8,243.2" fill="none" stroke="#cdb586" stroke-width="0.35" opacity="0.35"/>
<path d="M263.30,271.70 L257.51,272.90 L255.08,274.31 L253.23,275.75 L251.70,277.21 L250.39,278.68 L249.26,280.16 L248.28,281.66 L247.44,283.16 L246.71,284.67 L246.10,286.18 L245.60,287.71 L245.20,289.23 L244.91,290.77 L244.73,292.31 L244.65,293.86 L244.73,295.42 L244.97,296.98 L245.36,298.56 L245.89,300.14 L246.56,301.74 L247.37,303.34 L248.29,304.95 L249.32,306.56 L250.44,308.18 L251.64,309.81 L252.90,311.44 L254.20,313.07 L255.52,314.70 L256.84,316.33 L258.12,317.96 L259.32,319.59 L260.30,321.20 L261.46,319.72 L262.85,318.25 L264.32,316.79 L265.83,315.32 L267.34,313.86 L268.83,312.40 L270.28,310.94 L271.66,309.47 L272.97,307.99 L274.19,306.52 L275.30,305.03 L276.29,303.54 L277.15,302.04 L277.87,300.53 L278.44,299.01 L278.87,297.48 L279.13,295.95 L279.25,294.40 L279.25,292.85 L279.15,291.29 L278.94,289.73 L278.63,288.15 L278.20,286.58 L277.66,284.99 L277.00,283.40 L276.21,281.80 L275.27,280.19 L274.15,278.57 L272.81,276.93 L271.15,275.28 L268.90,273.59Z" fill="#e2e0d2" stroke="#c6b28a" stroke-width="0.5" stroke-opacity="0.8"/>
<path d="M263.3,273.7 L260.3,321.2 L260.2,323.0" fill="none" stroke="#c8aa68" stroke-width="0.8" opacity="0.85"/>
<path d="M262.6,284.1 L250.0,277.4 M262.6,284.1 L275.9,278.9 M262.1,291.5 L249.5,284.8 M262.1,291.5 L275.4,286.3 M261.7,298.9 L249.1,292.2 M261.7,298.9 L275.0,293.8 M261.2,306.3 L248.6,299.6 M261.2,306.3 L274.5,301.2" fill="none" stroke="#cdb586" stroke-width="0.35" opacity="0.35"/>
<path d="M295.20,273.50 L289.98,274.84 L287.83,276.25 L286.21,277.66 L284.89,279.08 L283.77,280.50 L282.82,281.92 L282.02,283.35 L281.34,284.78 L280.79,286.22 L280.34,287.65 L280.00,289.09 L279.77,290.53 L279.65,291.97 L279.63,293.42 L279.73,294.86 L279.96,296.31 L280.31,297.76 L280.77,299.22 L281.35,300.67 L282.03,302.13 L282.81,303.59 L283.68,305.05 L284.63,306.51 L285.65,307.98 L286.72,309.44 L287.84,310.91 L288.98,312.37 L290.13,313.84 L291.28,315.31 L292.40,316.77 L293.44,318.24 L294.30,319.70 L295.21,318.27 L296.32,316.85 L297.49,315.43 L298.69,314.01 L299.90,312.59 L301.10,311.17 L302.27,309.75 L303.40,308.32 L304.47,306.90 L305.48,305.47 L306.40,304.05 L307.24,302.62 L307.98,301.19 L308.61,299.76 L309.13,298.32 L309.54,296.89 L309.82,295.45 L309.98,294.01 L310.02,292.56 L309.95,291.12 L309.78,289.67 L309.50,288.22 L309.11,286.77 L308.61,285.32 L307.99,283.86 L307.24,282.40 L306.35,280.94 L305.29,279.47 L304.02,278.00 L302.46,276.53 L300.36,275.04Z" fill="#e2d6bc" stroke="#c6b28a" stroke-width="0.5" stroke-opacity="0.8"/>
<filter id="mf11" x="0" y="0" width="100%" height="100%" filterUnits="objectBoundingBox" color-interpolation-filters="sRGB"><feTurbulence type="fractalNoise" baseFrequency="0.1" numOctaves="3" seed="14" result="n"/><feColorMatrix in="n" type="matrix" values="0 0 0 0 0.753  0 0 0 0 0.565  0 0 0 0 0.353  0 0 0 3 -1.3" result="m"/><feComposite in="m" in2="SourceGraphic" operator="in"/></filter>
<path d="M295.20,273.50 L289.98,274.84 L287.83,276.25 L286.21,277.66 L284.89,279.08 L283.77,280.50 L282.82,281.92 L282.02,283.35 L281.34,284.78 L280.79,286.22 L280.34,287.65 L280.00,289.09 L279.77,290.53 L279.65,291.97 L279.63,293.42 L279.73,294.86 L279.96,296.31 L280.31,297.76 L280.77,299.22 L281.35,300.67 L282.03,302.13 L282.81,303.59 L283.68,305.05 L284.63,306.51 L285.65,307.98 L286.72,309.44 L287.84,310.91 L288.98,312.37 L290.13,313.84 L291.28,315.31 L292.40,316.77 L293.44,318.24 L294.30,319.70 L295.21,318.27 L296.32,316.85 L297.49,315.43 L298.69,314.01 L299.90,312.59 L301.10,311.17 L302.27,309.75 L303.40,308.32 L304.47,306.90 L305.48,305.47 L306.40,304.05 L307.24,302.62 L307.98,301.19 L308.61,299.76 L309.13,298.32 L309.54,296.89 L309.82,295.45 L309.98,294.01 L310.02,292.56 L309.95,291.12 L309.78,289.67 L309.50,288.22 L309.11,286.77 L308.61,285.32 L307.99,283.86 L307.24,282.40 L306.35,280.94 L305.29,279.47 L304.02,278.00 L302.46,276.53 L300.36,275.04Z" fill="#000" filter="url(#mf11)"/>
<path d="M295.2,275.5 L294.3,319.7 L294.3,321.5" fill="none" stroke="#c8aa68" stroke-width="0.8" opacity="0.85"/>
<path d="M295.0,285.1 L283.7,279.3 M295.0,285.1 L306.5,279.7 M294.8,292.0 L283.6,286.2 M294.8,292.0 L306.3,286.7 M294.7,298.9 L283.4,293.1 M294.7,298.9 L306.2,293.6 M294.6,305.8 L283.3,300.1 M294.6,305.8 L306.1,300.5" fill="none" stroke="#cdb586" stroke-width="0.35" opacity="0.35"/>
<path d="M339.20,268.60 L332.86,269.20 L330.10,270.41 L327.95,271.73 L326.16,273.12 L324.60,274.54 L323.25,276.00 L322.06,277.48 L321.02,279.00 L320.11,280.53 L319.34,282.09 L318.70,283.68 L318.18,285.28 L317.78,286.90 L317.51,288.55 L317.38,290.22 L317.39,291.91 L317.54,293.63 L317.84,295.38 L318.26,297.14 L318.80,298.93 L319.46,300.74 L320.23,302.56 L321.08,304.40 L322.02,306.26 L323.02,308.12 L324.07,310.00 L325.15,311.88 L326.24,313.76 L327.33,315.64 L328.38,317.52 L329.35,319.38 L330.10,321.20 L331.42,319.74 L332.96,318.31 L334.57,316.90 L336.23,315.49 L337.90,314.08 L339.55,312.68 L341.17,311.26 L342.73,309.84 L344.24,308.41 L345.66,306.96 L346.99,305.50 L348.22,304.02 L349.34,302.52 L350.33,301.00 L351.19,299.45 L351.91,297.89 L352.49,296.29 L352.93,294.68 L353.23,293.04 L353.40,291.37 L353.45,289.69 L353.37,287.98 L353.17,286.25 L352.83,284.50 L352.36,282.73 L351.74,280.93 L350.95,279.10 L349.97,277.23 L348.74,275.33 L347.17,273.36 L344.97,271.29Z" fill="#d8c8a0" stroke="#c6b28a" stroke-width="0.5" stroke-opacity="0.8"/>
<filter id="mf12" x="0" y="0" width="100%" height="100%" filterUnits="objectBoundingBox" color-interpolation-filters="sRGB"><feTurbulence type="fractalNoise" baseFrequency="0.16" numOctaves="3" seed="15" result="n"/><feColorMatrix in="n" type="matrix" values="0 0 0 0 0.659  0 0 0 0 0.478  0 0 0 0 0.251  0 0 0 3 -1.12" result="m"/><feComposite in="m" in2="SourceGraphic" operator="in"/></filter>
<path d="M339.20,268.60 L332.86,269.20 L330.10,270.41 L327.95,271.73 L326.16,273.12 L324.60,274.54 L323.25,276.00 L322.06,277.48 L321.02,279.00 L320.11,280.53 L319.34,282.09 L318.70,283.68 L318.18,285.28 L317.78,286.90 L317.51,288.55 L317.38,290.22 L317.39,291.91 L317.54,293.63 L317.84,295.38 L318.26,297.14 L318.80,298.93 L319.46,300.74 L320.23,302.56 L321.08,304.40 L322.02,306.26 L323.02,308.12 L324.07,310.00 L325.15,311.88 L326.24,313.76 L327.33,315.64 L328.38,317.52 L329.35,319.38 L330.10,321.20 L331.42,319.74 L332.96,318.31 L334.57,316.90 L336.23,315.49 L337.90,314.08 L339.55,312.68 L341.17,311.26 L342.73,309.84 L344.24,308.41 L345.66,306.96 L346.99,305.50 L348.22,304.02 L349.34,302.52 L350.33,301.00 L351.19,299.45 L351.91,297.89 L352.49,296.29 L352.93,294.68 L353.23,293.04 L353.40,291.37 L353.45,289.69 L353.37,287.98 L353.17,286.25 L352.83,284.50 L352.36,282.73 L351.74,280.93 L350.95,279.10 L349.97,277.23 L348.74,275.33 L347.17,273.36 L344.97,271.29Z" fill="#000" filter="url(#mf12)"/>
<path d="M336.9,281.8 Q322.2,305.0 322.2,309.0 L330.6,318.6 L341.7,312.4 Q341.7,308.4 336.9,281.8Z" fill="#e4dcb8" opacity="0.55" filter="url(#blur2)"/>
<path d="M339.2,270.6 L330.1,321.2 L329.9,323.0" fill="none" stroke="#c8aa68" stroke-width="0.8" opacity="0.85"/>
<path d="M336.9,281.8 L324.7,273.1 M336.9,281.8 L351.3,277.7 M335.6,289.6 L323.3,281.0 M335.6,289.6 L350.0,285.6 M334.2,297.5 L322.0,288.9 M334.2,297.5 L348.6,293.5 M332.8,305.4 L320.6,296.8 M332.8,305.4 L347.2,301.4" fill="none" stroke="#cdb586" stroke-width="0.35" opacity="0.35"/>
<path d="M380.20,269.60 L374.28,270.96 L371.83,272.42 L369.98,273.91 L368.47,275.40 L367.20,276.90 L366.11,278.40 L365.18,279.91 L364.40,281.43 L363.76,282.95 L363.24,284.47 L362.84,286.00 L362.57,287.53 L362.41,289.06 L362.37,290.60 L362.48,292.14 L362.72,293.69 L363.10,295.24 L363.61,296.79 L364.25,298.35 L365.01,299.92 L365.87,301.48 L366.84,303.05 L367.90,304.62 L369.03,306.19 L370.23,307.77 L371.48,309.35 L372.76,310.92 L374.05,312.50 L375.33,314.08 L376.58,315.66 L377.74,317.23 L378.70,318.80 L379.75,317.29 L381.01,315.79 L382.35,314.29 L383.73,312.80 L385.11,311.30 L386.48,309.80 L387.82,308.31 L389.12,306.81 L390.35,305.30 L391.50,303.80 L392.56,302.29 L393.52,300.78 L394.37,299.27 L395.10,297.76 L395.71,296.23 L396.18,294.71 L396.52,293.18 L396.71,291.65 L396.77,290.11 L396.71,288.57 L396.53,287.03 L396.22,285.48 L395.80,283.93 L395.25,282.37 L394.56,280.81 L393.73,279.25 L392.73,277.68 L391.55,276.10 L390.14,274.52 L388.38,272.93 L386.02,271.32Z" fill="#c8a050" stroke="#c6b28a" stroke-width="0.5" stroke-opacity="0.8"/>
<filter id="mf13" x="0" y="0" width="100%" height="100%" filterUnits="objectBoundingBox" color-interpolation-filters="sRGB"><feTurbulence type="fractalNoise" baseFrequency="0.12" numOctaves="3" seed="16" result="n"/><feColorMatrix in="n" type="matrix" values="0 0 0 0 0.518  0 0 0 0 0.329  0 0 0 0 0.078  0 0 0 3 -0.9" result="m"/><feComposite in="m" in2="SourceGraphic" operator="in"/></filter>
<path d="M380.20,269.60 L374.28,270.96 L371.83,272.42 L369.98,273.91 L368.47,275.40 L367.20,276.90 L366.11,278.40 L365.18,279.91 L364.40,281.43 L363.76,282.95 L363.24,284.47 L362.84,286.00 L362.57,287.53 L362.41,289.06 L362.37,290.60 L362.48,292.14 L362.72,293.69 L363.10,295.24 L363.61,296.79 L364.25,298.35 L365.01,299.92 L365.87,301.48 L366.84,303.05 L367.90,304.62 L369.03,306.19 L370.23,307.77 L371.48,309.35 L372.76,310.92 L374.05,312.50 L375.33,314.08 L376.58,315.66 L377.74,317.23 L378.70,318.80 L379.75,317.29 L381.01,315.79 L382.35,314.29 L383.73,312.80 L385.11,311.30 L386.48,309.80 L387.82,308.31 L389.12,306.81 L390.35,305.30 L391.50,303.80 L392.56,302.29 L393.52,300.78 L394.37,299.27 L395.10,297.76 L395.71,296.23 L396.18,294.71 L396.52,293.18 L396.71,291.65 L396.77,290.11 L396.71,288.57 L396.53,287.03 L396.22,285.48 L395.80,283.93 L395.25,282.37 L394.56,280.81 L393.73,279.25 L392.73,277.68 L391.55,276.10 L390.14,274.52 L388.38,272.93 L386.02,271.32Z" fill="#000" filter="url(#mf13)"/>
<path d="M379.8,281.9 Q369.5,304.7 369.5,308.7 L378.8,316.3 L388.5,309.2 Q388.5,305.2 379.8,281.9Z" fill="#e4dcb8" opacity="0.55" filter="url(#blur2)"/>
<path d="M380.2,271.6 L378.7,318.8 L378.7,320.6" fill="none" stroke="#c8aa68" stroke-width="0.8" opacity="0.85"/>
<path d="M379.8,281.9 L367.1,275.6 M379.8,281.9 L392.9,276.4 M379.6,289.3 L366.9,283.0 M379.6,289.3 L392.7,283.8 M379.4,296.7 L366.7,290.4 M379.4,296.7 L392.4,291.1 M379.1,304.0 L366.4,297.7 M379.1,304.0 L392.2,298.5" fill="none" stroke="#cdb586" stroke-width="0.35" opacity="0.35"/>
<path d="M415.20,271.10 L409.33,272.43 L406.92,273.76 L405.11,275.08 L403.63,276.41 L402.38,277.74 L401.31,279.07 L400.40,280.40 L399.62,281.73 L398.97,283.05 L398.44,284.38 L398.02,285.71 L397.71,287.04 L397.50,288.37 L397.41,289.69 L397.43,291.02 L397.61,292.35 L397.95,293.68 L398.44,295.01 L399.09,296.33 L399.88,297.66 L400.80,298.99 L401.85,300.32 L403.01,301.65 L404.26,302.98 L405.59,304.30 L406.99,305.63 L408.43,306.96 L409.89,308.29 L411.34,309.62 L412.76,310.94 L414.10,312.27 L415.20,313.60 L416.30,312.27 L417.64,310.94 L419.06,309.62 L420.51,308.29 L421.97,306.96 L423.41,305.63 L424.81,304.30 L426.14,302.98 L427.39,301.65 L428.55,300.32 L429.60,298.99 L430.52,297.66 L431.31,296.33 L431.96,295.01 L432.45,293.68 L432.79,292.35 L432.97,291.02 L432.99,289.69 L432.90,288.37 L432.69,287.04 L432.38,285.71 L431.96,284.38 L431.43,283.05 L430.78,281.73 L430.00,280.40 L429.09,279.07 L428.02,277.74 L426.77,276.41 L425.29,275.08 L423.48,273.76 L421.07,272.43Z" fill="#a87a38" stroke="#c6b28a" stroke-width="0.5" stroke-opacity="0.8"/>
<filter id="mf14" x="0" y="0" width="100%" height="100%" filterUnits="objectBoundingBox" color-interpolation-filters="sRGB"><feTurbulence type="fractalNoise" baseFrequency="0.12" numOctaves="3" seed="17" result="n"/><feColorMatrix in="n" type="matrix" values="0 0 0 0 0.439  0 0 0 0 0.251  0 0 0 0 0.063  0 0 0 3 -0.9" result="m"/><feComposite in="m" in2="SourceGraphic" operator="in"/></filter>
<path d="M415.20,271.10 L409.33,272.43 L406.92,273.76 L405.11,275.08 L403.63,276.41 L402.38,277.74 L401.31,279.07 L400.40,280.40 L399.62,281.73 L398.97,283.05 L398.44,284.38 L398.02,285.71 L397.71,287.04 L397.50,288.37 L397.41,289.69 L397.43,291.02 L397.61,292.35 L397.95,293.68 L398.44,295.01 L399.09,296.33 L399.88,297.66 L400.80,298.99 L401.85,300.32 L403.01,301.65 L404.26,302.98 L405.59,304.30 L406.99,305.63 L408.43,306.96 L409.89,308.29 L411.34,309.62 L412.76,310.94 L414.10,312.27 L415.20,313.60 L416.30,312.27 L417.64,310.94 L419.06,309.62 L420.51,308.29 L421.97,306.96 L423.41,305.63 L424.81,304.30 L426.14,302.98 L427.39,301.65 L428.55,300.32 L429.60,298.99 L430.52,297.66 L431.31,296.33 L431.96,295.01 L432.45,293.68 L432.79,292.35 L432.97,291.02 L432.99,289.69 L432.90,288.37 L432.69,287.04 L432.38,285.71 L431.96,284.38 L431.43,283.05 L430.78,281.73 L430.00,280.40 L429.09,279.07 L428.02,277.74 L426.77,276.41 L425.29,275.08 L423.48,273.76 L421.07,272.43Z" fill="#000" filter="url(#mf14)"/>
<path d="M415.2,273.1 L415.2,313.6 L415.2,315.4" fill="none" stroke="#c8aa68" stroke-width="0.8" opacity="0.85"/>
<path d="M415.2,281.7 L401.8,276.6 M415.2,281.7 L428.6,276.6 M415.2,288.1 L401.8,283.0 M415.2,288.1 L428.6,283.0 M415.2,294.5 L401.8,289.4 M415.2,294.5 L428.6,289.4 M415.2,300.9 L401.8,295.8 M415.2,300.9 L428.6,295.8" fill="none" stroke="#cdb586" stroke-width="0.35" opacity="0.35"/>
<rect x="242" y="199.2" width="18" height="1.7" fill="#111"/>
<rect x="242" y="259.2" width="18" height="1.7" fill="#111"/>
<rect x="242" y="318.8" width="18" height="1.7" fill="#111"/>
<text x="459.00" y="146.00" font-size="10.5" text-anchor="start" font-weight="bold" fill="#000" >f</text>
<line x1="492.60" y1="143.00" x2="492.60" y2="222.20" stroke="#3a3a3a" stroke-width="0.9" />
<line x1="490.40" y1="143.30" x2="492.60" y2="143.30" stroke="#3a3a3a" stroke-width="0.9" />
<text x="488.20" y="146.40" font-size="8.1" text-anchor="end" font-weight="normal" fill="#231f20" >0</text>
<line x1="490.40" y1="182.55" x2="492.60" y2="182.55" stroke="#3a3a3a" stroke-width="0.9" />
<text x="488.20" y="185.65" font-size="8.1" text-anchor="end" font-weight="normal" fill="#231f20" >−100</text>
<line x1="490.40" y1="221.80" x2="492.60" y2="221.80" stroke="#3a3a3a" stroke-width="0.9" />
<text x="488.20" y="224.90" font-size="8.1" text-anchor="end" font-weight="normal" fill="#231f20" >−200</text>
<text x="0" y="0" transform="translate(463.50,197.00) rotate(-90)" font-size="7.3" text-anchor="start" font-weight="normal" fill="#231f20" ><tspan font-style="italic">V</tspan><tspan font-size="5.3" dy="1.5">m</tspan><tspan dy="-1.5"> (mV)</tspan></text>
<rect x="520" y="143.1" width="90.9" height="6.4" fill="#069c70"/>
<path d="M492.80,197.00 L519.60,197.00 L519.60,199.40 L492.80,199.40Z" fill="#f8f3b0" stroke="none" />
<path d="M492.80,199.80 L519.60,199.80 L519.60,202.40 L492.80,202.40Z" fill="#d6e6fa" stroke="none" />
<path d="M519.60,197.70 L685.00,197.70 L685.00,202.70 L519.60,202.70Z" fill="#f1e55a" stroke="none" />
<path d="M521.00,154.00 L522.00,154.30 L523.00,154.60 L523.90,154.87 L524.80,155.13 L525.70,155.40 L526.42,155.43 L527.13,155.45 L527.85,155.47 L528.56,155.50 L529.28,155.53 L529.99,155.55 L530.71,155.58 L531.42,155.60 L532.13,155.62 L532.85,155.65 L533.57,155.68 L534.28,155.70 L535.00,155.72 L535.71,155.75 L536.42,155.78 L537.14,155.80 L537.86,155.83 L538.57,155.85 L539.28,155.88 L540.00,155.90 L540.71,155.92 L541.43,155.94 L542.14,155.95 L542.86,155.97 L543.57,155.99 L544.29,156.01 L545.00,156.03 L545.71,156.04 L546.43,156.06 L547.14,156.08 L547.86,156.10 L548.57,156.11 L549.29,156.13 L550.00,156.15 L550.71,156.17 L551.43,156.19 L552.14,156.20 L552.86,156.22 L553.57,156.24 L554.29,156.26 L555.00,156.28 L555.71,156.29 L556.43,156.31 L557.14,156.33 L557.86,156.35 L558.57,156.36 L559.29,156.38 L560.00,156.40 L560.71,156.41 L561.43,156.42 L562.14,156.43 L562.86,156.44 L563.57,156.45 L564.29,156.46 L565.00,156.47 L565.71,156.49 L566.43,156.50 L567.14,156.51 L567.86,156.52 L568.57,156.53 L569.29,156.54 L570.00,156.55 L570.71,156.56 L571.43,156.57 L572.14,156.58 L572.86,156.59 L573.57,156.60 L574.29,156.61 L575.00,156.63 L575.71,156.64 L576.43,156.65 L577.14,156.66 L577.86,156.67 L578.57,156.68 L579.29,156.69 L580.00,156.70 L580.71,156.71 L581.43,156.71 L582.14,156.72 L582.86,156.73 L583.57,156.74 L584.29,156.74 L585.00,156.75 L585.71,156.76 L586.43,156.76 L587.14,156.77 L587.86,156.78 L588.57,156.79 L589.29,156.79 L590.00,156.80 L590.71,156.81 L591.43,156.81 L592.14,156.82 L592.86,156.83 L593.57,156.84 L594.29,156.84 L595.00,156.85 L595.71,156.86 L596.43,156.86 L597.14,156.87 L597.86,156.88 L598.57,156.89 L599.29,156.89 L600.00,156.90 L600.70,156.91 L601.40,156.91 L602.10,156.92 L602.80,156.93 L603.50,156.93 L604.20,156.94 L604.90,156.94 L605.60,156.95 L606.30,156.96 L607.00,156.96 L607.70,156.97 L608.40,156.97 L609.10,156.98 L609.80,156.99 L610.50,156.99 L611.20,157.00 L611.20,160.00 L610.50,159.99 L609.80,159.99 L609.10,159.98 L608.40,159.97 L607.70,159.97 L607.00,159.96 L606.30,159.96 L605.60,159.95 L604.90,159.94 L604.20,159.94 L603.50,159.93 L602.80,159.93 L602.10,159.92 L601.40,159.91 L600.70,159.91 L600.00,159.90 L599.29,159.89 L598.57,159.89 L597.86,159.88 L597.14,159.87 L596.43,159.86 L595.71,159.86 L595.00,159.85 L594.29,159.84 L593.57,159.84 L592.86,159.83 L592.14,159.82 L591.43,159.81 L590.71,159.81 L590.00,159.80 L589.29,159.79 L588.57,159.79 L587.86,159.78 L587.14,159.77 L586.43,159.76 L585.71,159.76 L585.00,159.75 L584.29,159.74 L583.57,159.74 L582.86,159.73 L582.14,159.72 L581.43,159.71 L580.71,159.71 L580.00,159.70 L579.29,159.69 L578.57,159.68 L577.86,159.67 L577.14,159.66 L576.43,159.65 L575.71,159.64 L575.00,159.63 L574.29,159.61 L573.57,159.60 L572.86,159.59 L572.14,159.58 L571.43,159.57 L570.71,159.56 L570.00,159.55 L569.29,159.54 L568.57,159.53 L567.86,159.52 L567.14,159.51 L566.43,159.50 L565.71,159.49 L565.00,159.47 L564.29,159.46 L563.57,159.45 L562.86,159.44 L562.14,159.43 L561.43,159.42 L560.71,159.41 L560.00,159.40 L559.29,159.38 L558.57,159.36 L557.86,159.35 L557.14,159.33 L556.43,159.31 L555.71,159.29 L555.00,159.28 L554.29,159.26 L553.57,159.24 L552.86,159.22 L552.14,159.20 L551.43,159.19 L550.71,159.17 L550.00,159.15 L549.29,159.13 L548.57,159.11 L547.86,159.10 L547.14,159.08 L546.43,159.06 L545.71,159.04 L545.00,159.03 L544.29,159.01 L543.57,158.99 L542.86,158.97 L542.14,158.95 L541.43,158.94 L540.71,158.92 L540.00,158.90 L539.28,158.88 L538.57,158.85 L537.86,158.83 L537.14,158.80 L536.42,158.78 L535.71,158.75 L535.00,158.72 L534.28,158.70 L533.57,158.68 L532.85,158.65 L532.13,158.62 L531.42,158.60 L530.71,158.58 L529.99,158.55 L529.28,158.53 L528.56,158.50 L527.85,158.47 L527.13,158.45 L526.42,158.43 L525.70,158.40 L524.80,158.13 L523.90,157.87 L523.00,157.60 L522.00,157.30 L521.00,157.00Z" fill="#f9f1b0" stroke="none" />
<path d="M611.90,168.60 L612.80,186.60 L614.10,192.80 L614.86,193.26 L615.62,193.72 L616.38,194.18 L617.14,194.64 L617.90,195.10 L618.72,195.28 L619.54,195.46 L620.36,195.64 L621.18,195.82 L622.00,196.00 L622.71,196.05 L623.42,196.11 L624.13,196.16 L624.84,196.22 L625.55,196.27 L626.25,196.33 L626.96,196.38 L627.67,196.44 L628.38,196.49 L629.09,196.55 L629.80,196.60 L630.52,196.61 L631.24,196.62 L631.96,196.63 L632.69,196.64 L633.41,196.65 L634.13,196.66 L634.85,196.67 L635.57,196.69 L636.29,196.70 L637.01,196.71 L637.74,196.72 L638.46,196.73 L639.18,196.74 L639.90,196.75 L640.62,196.76 L641.34,196.77 L642.06,196.78 L642.79,196.79 L643.51,196.80 L644.23,196.81 L644.95,196.83 L645.67,196.84 L646.39,196.85 L647.11,196.86 L647.84,196.87 L648.56,196.88 L649.28,196.89 L650.00,196.90 L650.70,196.90 L651.40,196.90 L652.10,196.91 L652.80,196.91 L653.50,196.91 L654.20,196.91 L654.90,196.91 L655.60,196.92 L656.30,196.92 L657.00,196.92 L657.70,196.92 L658.40,196.92 L659.10,196.93 L659.80,196.93 L660.50,196.93 L661.20,196.93 L661.90,196.93 L662.60,196.94 L663.30,196.94 L664.00,196.94 L664.70,196.94 L665.40,196.94 L666.10,196.95 L666.80,196.95 L667.50,196.95 L668.20,196.95 L668.90,196.95 L669.60,196.96 L670.30,196.96 L671.00,196.96 L671.70,196.96 L672.40,196.96 L673.10,196.97 L673.80,196.97 L674.50,196.97 L675.20,196.97 L675.90,196.97 L676.60,196.98 L677.30,196.98 L678.00,196.98 L678.70,196.98 L679.40,196.98 L680.10,196.99 L680.80,196.99 L681.50,196.99 L682.20,196.99 L682.90,196.99 L683.60,197.00 L684.30,197.00 L685.00,197.00 L685.00,199.80 L684.30,199.80 L683.60,199.80 L682.90,199.79 L682.20,199.79 L681.50,199.79 L680.80,199.79 L680.10,199.79 L679.40,199.78 L678.70,199.78 L678.00,199.78 L677.30,199.78 L676.60,199.78 L675.90,199.77 L675.20,199.77 L674.50,199.77 L673.80,199.77 L673.10,199.77 L672.40,199.76 L671.70,199.76 L671.00,199.76 L670.30,199.76 L669.60,199.76 L668.90,199.75 L668.20,199.75 L667.50,199.75 L666.80,199.75 L666.10,199.75 L665.40,199.74 L664.70,199.74 L664.00,199.74 L663.30,199.74 L662.60,199.74 L661.90,199.73 L661.20,199.73 L660.50,199.73 L659.80,199.73 L659.10,199.73 L658.40,199.72 L657.70,199.72 L657.00,199.72 L656.30,199.72 L655.60,199.72 L654.90,199.71 L654.20,199.71 L653.50,199.71 L652.80,199.71 L652.10,199.71 L651.40,199.70 L650.70,199.70 L650.00,199.70 L649.28,199.69 L648.56,199.68 L647.84,199.67 L647.11,199.66 L646.39,199.65 L645.67,199.64 L644.95,199.63 L644.23,199.61 L643.51,199.60 L642.79,199.59 L642.06,199.58 L641.34,199.57 L640.62,199.56 L639.90,199.55 L639.18,199.54 L638.46,199.53 L637.74,199.52 L637.01,199.51 L636.29,199.50 L635.57,199.49 L634.85,199.47 L634.13,199.46 L633.41,199.45 L632.69,199.44 L631.96,199.43 L631.24,199.42 L630.52,199.41 L629.80,199.40 L629.09,199.35 L628.38,199.29 L627.67,199.24 L626.96,199.18 L626.25,199.13 L625.55,199.07 L624.84,199.02 L624.13,198.96 L623.42,198.91 L622.71,198.85 L622.00,198.80 L621.18,198.62 L620.36,198.44 L619.54,198.26 L618.72,198.08 L617.90,197.90 L617.14,197.44 L616.38,196.98 L615.62,196.52 L614.86,196.06 L614.10,195.60 L612.80,189.40 L611.90,171.40Z" fill="#f9f1b0" stroke="none" />
<path d="M521.25,161.63 L522.10,160.31 L522.88,160.30 L523.66,160.87 L524.44,160.85 L525.22,160.16 L526.00,161.26 L526.71,160.26 L527.43,160.22 L528.14,160.23 L528.86,161.11 L529.57,160.95 L530.29,161.00 L531.00,161.01 L531.95,161.23 L532.90,162.34 L533.67,163.13 L534.45,162.60 L535.23,163.37 L536.00,163.46 L536.73,163.32 L537.45,164.37 L538.17,163.33 L538.90,163.52 L539.62,163.80 L540.35,163.79 L541.07,163.92 L541.80,164.33 L542.50,163.84 L543.20,164.51 L543.90,163.85 L544.60,163.63 L545.30,163.89 L546.00,163.71 L546.73,163.06 L547.45,163.05 L548.17,164.01 L548.90,162.99 L549.80,162.33 L550.70,162.23 L551.42,161.83 L552.13,162.04 L552.85,162.29 L553.57,161.68 L554.28,161.16 L555.00,162.05 L555.71,161.31 L556.42,161.59 L557.13,162.41 L557.84,161.43 L558.56,161.83 L559.27,161.40 L559.98,161.73 L560.69,161.73 L561.40,162.32 L562.12,161.71 L562.83,161.58 L563.55,161.72 L564.27,162.35 L564.98,161.95 L565.70,162.37 L566.42,162.94 L567.13,163.07 L567.85,163.07 L568.57,162.94 L569.28,163.03 L570.00,162.60 L570.75,162.36 L571.50,162.63 L572.25,162.83 L573.00,162.55 L573.75,163.07 L574.50,162.89 L575.25,162.52 L576.00,163.06 L576.75,163.41 L577.50,162.44 L578.24,162.69 L578.97,163.19 L579.71,163.18 L580.44,162.96 L581.18,162.86 L581.91,163.39 L582.65,163.70 L583.38,163.41 L584.12,162.60 L584.85,163.50 L585.59,163.06 L586.32,163.43 L587.06,163.41 L587.79,163.46 L588.53,163.13 L589.26,163.46 L590.00,163.66 L590.71,163.55 L591.42,163.46 L592.13,163.01 L592.84,163.62 L593.55,163.67 L594.26,163.07 L594.97,163.13 L595.68,162.72 L596.39,163.63 L597.10,163.14 L597.82,163.32 L598.54,164.02 L599.26,162.89 L599.98,164.11 L600.70,164.47 L601.42,164.30 L602.14,165.09 L602.86,164.81 L603.58,165.56 L604.30,166.23 L605.04,166.47 L605.78,165.66 L606.52,166.43 L607.26,165.86 L608.00,166.45 L608.85,165.89 L609.70,166.88 L610.55,167.05 L611.40,167.13 L612.30,174.16 L612.80,177.42 L613.60,178.44 L614.40,179.42 L615.20,179.22 L616.00,179.44 L616.83,180.42 L617.65,181.69 L618.47,182.11 L619.30,182.47 L620.04,182.60 L620.78,183.03 L621.52,183.24 L622.26,182.64 L623.00,182.54 L623.75,183.77 L624.50,182.94 L625.25,183.88 L626.00,183.67 L627.00,184.77 L628.00,185.98 L628.75,189.00 L629.50,190.37 L630.20,190.15 L630.90,189.87 L631.60,191.28 L632.30,191.19 L633.00,190.61 L633.70,191.72 L634.40,191.42 L635.10,191.58 L635.80,191.18 L636.50,190.92 L637.20,192.06 L637.93,191.36 L638.65,191.47 L639.38,191.43 L640.10,191.93 L640.83,191.51 L641.55,192.39 L642.27,192.42 L643.00,192.78 L643.76,192.10 L644.52,192.60 L645.29,192.99 L646.05,193.21 L646.81,192.53 L647.58,192.78 L648.34,192.72 L649.10,193.26 L649.83,192.68 L650.57,192.72 L651.30,191.51 L652.05,192.45 L652.79,191.81 L653.54,191.38 L654.28,191.48 L655.03,192.27 L655.77,192.06 L656.52,191.19 L657.26,191.46 L658.01,191.11 L658.75,191.10 L659.50,191.67 L660.20,191.01 L660.90,191.21 L661.60,191.73 L662.30,191.65 L663.00,192.03 L663.70,191.54 L664.40,190.73 L665.10,191.89 L665.80,191.20 L666.50,191.81 L667.20,191.82 L667.90,190.99 L668.60,191.53 L669.30,191.76 L670.00,191.59 L670.71,190.92 L671.43,191.03 L672.14,191.86 L672.86,191.57 L673.57,190.56 L674.29,191.63 L675.00,191.18 L675.71,191.40 L676.43,190.92 L677.14,191.19 L677.86,190.96 L678.57,191.34 L679.29,191.85 L680.00,191.88 L680.71,192.05 L681.43,191.03 L682.14,192.05 L682.86,192.19 L683.57,190.90 L684.29,192.00 L685.00,191.05 L685.00,197.97 L684.29,197.92 L683.57,198.72 L682.86,197.70 L682.14,197.80 L681.43,198.49 L680.71,198.50 L680.00,198.92 L679.29,197.76 L678.57,198.75 L677.86,197.66 L677.14,198.78 L676.43,197.74 L675.71,197.46 L675.00,198.13 L674.29,197.72 L673.57,198.00 L672.86,197.67 L672.14,197.37 L671.43,198.59 L670.71,197.62 L670.00,197.21 L669.30,198.38 L668.60,198.15 L667.90,198.47 L667.20,198.37 L666.50,198.10 L665.80,197.51 L665.10,197.71 L664.40,197.79 L663.70,197.61 L663.00,198.91 L662.30,197.92 L661.60,197.78 L660.90,198.03 L660.20,198.22 L659.50,198.14 L658.75,199.04 L658.01,199.07 L657.26,198.13 L656.52,198.22 L655.77,198.95 L655.03,198.35 L654.28,198.08 L653.54,199.13 L652.79,198.14 L652.05,198.78 L651.30,199.24 L650.57,199.59 L649.83,199.49 L649.10,199.72 L648.34,200.05 L647.58,199.17 L646.81,200.21 L646.05,199.84 L645.29,199.15 L644.52,199.36 L643.76,199.36 L643.00,199.30 L642.27,198.44 L641.55,199.16 L640.83,199.50 L640.10,199.26 L639.38,199.19 L638.65,198.48 L637.93,198.53 L637.20,198.14 L636.50,197.83 L635.80,198.88 L635.10,198.08 L634.40,198.49 L633.70,197.92 L633.00,197.69 L632.30,197.57 L631.60,197.57 L630.90,197.99 L630.20,197.36 L629.50,196.46 L628.75,194.69 L628.00,193.43 L627.00,192.03 L626.00,191.04 L625.25,191.09 L624.50,191.00 L623.75,190.38 L623.00,189.85 L622.26,190.23 L621.52,189.98 L620.78,189.38 L620.04,188.26 L619.30,188.24 L618.47,187.94 L617.65,187.87 L616.83,187.81 L616.00,186.91 L615.20,186.68 L614.40,186.01 L613.60,184.51 L612.80,184.05 L612.30,181.83 L611.40,174.18 L610.55,173.75 L609.70,173.58 L608.85,173.20 L608.00,172.56 L607.26,172.72 L606.52,172.81 L605.78,173.20 L605.04,172.29 L604.30,172.24 L603.58,171.57 L602.86,171.84 L602.14,170.79 L601.42,170.83 L600.70,170.61 L599.98,169.84 L599.26,169.90 L598.54,169.51 L597.82,170.65 L597.10,170.20 L596.39,170.47 L595.68,169.75 L594.97,170.18 L594.26,169.39 L593.55,169.17 L592.84,169.33 L592.13,169.85 L591.42,169.84 L590.71,169.28 L590.00,169.11 L589.26,170.23 L588.53,169.44 L587.79,169.52 L587.06,170.23 L586.32,170.34 L585.59,169.75 L584.85,169.50 L584.12,170.29 L583.38,169.60 L582.65,169.86 L581.91,169.84 L581.18,169.75 L580.44,169.54 L579.71,169.33 L578.97,169.62 L578.24,170.33 L577.50,170.47 L576.75,170.43 L576.00,170.00 L575.25,170.05 L574.50,169.15 L573.75,169.01 L573.00,169.44 L572.25,169.24 L571.50,168.92 L570.75,169.14 L570.00,169.75 L569.28,169.70 L568.57,169.10 L567.85,169.18 L567.13,168.92 L566.42,169.53 L565.70,168.51 L564.98,169.30 L564.27,169.09 L563.55,168.74 L562.83,169.29 L562.12,168.38 L561.40,168.46 L560.69,169.47 L559.98,168.54 L559.27,169.39 L558.56,169.46 L557.84,168.60 L557.13,169.08 L556.42,168.64 L555.71,169.26 L555.00,169.16 L554.28,169.19 L553.57,168.42 L552.85,168.55 L552.13,169.07 L551.42,168.59 L550.70,169.08 L549.80,169.82 L548.90,170.52 L548.17,170.90 L547.45,169.93 L546.73,170.11 L546.00,170.02 L545.30,170.52 L544.60,170.40 L543.90,171.34 L543.20,170.46 L542.50,170.28 L541.80,170.85 L541.07,170.87 L540.35,170.52 L539.62,170.92 L538.90,170.62 L538.17,169.91 L537.45,170.45 L536.73,170.22 L536.00,169.81 L535.23,170.47 L534.45,169.85 L533.67,169.70 L532.90,168.99 L531.95,169.14 L531.00,168.13 L530.29,168.38 L529.57,167.28 L528.86,167.67 L528.14,167.80 L527.43,167.36 L526.71,168.01 L526.00,167.77 L525.22,167.55 L524.44,167.46 L523.66,167.71 L522.88,166.81 L522.10,167.10 L521.25,167.42Z" fill="#93c0f5" stroke="none" />
<path d="M519.80,185.00 L520.60,168.00 L521.25,164.60 L522.10,163.75 L522.88,163.80 L523.66,163.85 L524.44,163.90 L525.22,163.95 L526.00,164.00 L526.71,164.09 L527.43,164.17 L528.14,164.26 L528.86,164.34 L529.57,164.43 L530.29,164.51 L531.00,164.60 L531.95,165.30 L532.90,166.00 L533.67,166.25 L534.45,166.50 L535.23,166.75 L536.00,167.00 L536.73,167.04 L537.45,167.07 L538.17,167.11 L538.90,167.15 L539.62,167.19 L540.35,167.23 L541.07,167.26 L541.80,167.30 L542.50,167.28 L543.20,167.27 L543.90,167.25 L544.60,167.23 L545.30,167.22 L546.00,167.20 L546.73,167.10 L547.45,167.00 L548.17,166.90 L548.90,166.80 L549.80,165.90 L550.70,165.00 L551.42,165.03 L552.13,165.07 L552.85,165.10 L553.57,165.13 L554.28,165.17 L555.00,165.20 L555.71,165.23 L556.42,165.27 L557.13,165.30 L557.84,165.33 L558.56,165.37 L559.27,165.40 L559.98,165.43 L560.69,165.47 L561.40,165.50 L562.12,165.54 L562.83,165.58 L563.55,165.62 L564.27,165.67 L564.98,165.71 L565.70,165.75 L566.42,165.79 L567.13,165.83 L567.85,165.88 L568.57,165.92 L569.28,165.96 L570.00,166.00 L570.75,166.04 L571.50,166.08 L572.25,166.12 L573.00,166.16 L573.75,166.20 L574.50,166.24 L575.25,166.28 L576.00,166.32 L576.75,166.36 L577.50,166.40 L578.24,166.40 L578.97,166.40 L579.71,166.40 L580.44,166.40 L581.18,166.40 L581.91,166.40 L582.65,166.40 L583.38,166.40 L584.12,166.40 L584.85,166.40 L585.59,166.40 L586.32,166.40 L587.06,166.40 L587.79,166.40 L588.53,166.40 L589.26,166.40 L590.00,166.40 L590.71,166.40 L591.42,166.40 L592.13,166.40 L592.84,166.40 L593.55,166.40 L594.26,166.40 L594.97,166.40 L595.68,166.40 L596.39,166.40 L597.10,166.40 L597.82,166.58 L598.54,166.76 L599.26,166.94 L599.98,167.12 L600.70,167.30 L601.42,167.66 L602.14,168.02 L602.86,168.38 L603.58,168.74 L604.30,169.10 L605.04,169.24 L605.78,169.38 L606.52,169.52 L607.26,169.66 L608.00,169.80 L608.85,169.90 L609.70,170.00 L610.55,170.10 L611.40,170.20 L612.30,178.00 L612.80,181.00 L613.60,181.62 L614.40,182.25 L615.20,182.88 L616.00,183.50 L616.83,183.95 L617.65,184.40 L618.47,184.85 L619.30,185.30 L620.04,185.54 L620.78,185.78 L621.52,186.02 L622.26,186.26 L623.00,186.50 L623.75,186.75 L624.50,187.00 L625.25,187.25 L626.00,187.50 L627.00,188.75 L628.00,190.00 L628.75,191.75 L629.50,193.50 L630.20,193.70 L630.90,193.90 L631.60,194.10 L632.30,194.30 L633.00,194.50 L633.70,194.58 L634.40,194.67 L635.10,194.75 L635.80,194.83 L636.50,194.92 L637.20,195.00 L637.93,195.10 L638.65,195.20 L639.38,195.30 L640.10,195.40 L640.83,195.50 L641.55,195.60 L642.27,195.70 L643.00,195.80 L643.76,195.89 L644.52,195.98 L645.29,196.06 L646.05,196.15 L646.81,196.24 L647.58,196.32 L648.34,196.41 L649.10,196.50 L649.83,196.07 L650.57,195.63 L651.30,195.20 L652.05,195.18 L652.79,195.16 L653.54,195.15 L654.28,195.13 L655.03,195.11 L655.77,195.09 L656.52,195.07 L657.26,195.05 L658.01,195.04 L658.75,195.02 L659.50,195.00 L660.20,194.97 L660.90,194.93 L661.60,194.90 L662.30,194.87 L663.00,194.83 L663.70,194.80 L664.40,194.77 L665.10,194.73 L665.80,194.70 L666.50,194.67 L667.20,194.63 L667.90,194.60 L668.60,194.57 L669.30,194.53 L670.00,194.50 L670.71,194.52 L671.43,194.55 L672.14,194.57 L672.86,194.60 L673.57,194.62 L674.29,194.64 L675.00,194.67 L675.71,194.69 L676.43,194.71 L677.14,194.74 L677.86,194.76 L678.57,194.79 L679.29,194.81 L680.00,194.83 L680.71,194.86 L681.43,194.88 L682.14,194.90 L682.86,194.93 L683.57,194.95 L684.29,194.98 L685.00,195.00" fill="none" stroke="#2323cf" stroke-width="1.1" stroke-linejoin="round" stroke-linecap="round" />
<path d="M519.40,199.60 L519.60,175.00 L520.20,155.50 L521.00,154.60 L522.00,154.90 L523.00,155.20 L523.90,155.47 L524.80,155.73 L525.70,156.00 L526.42,156.03 L527.13,156.05 L527.85,156.07 L528.56,156.10 L529.28,156.12 L529.99,156.15 L530.71,156.18 L531.42,156.20 L532.13,156.22 L532.85,156.25 L533.57,156.28 L534.28,156.30 L535.00,156.32 L535.71,156.35 L536.42,156.38 L537.14,156.40 L537.86,156.43 L538.57,156.45 L539.28,156.47 L540.00,156.50 L540.71,156.52 L541.43,156.54 L542.14,156.55 L542.86,156.57 L543.57,156.59 L544.29,156.61 L545.00,156.62 L545.71,156.64 L546.43,156.66 L547.14,156.68 L547.86,156.70 L548.57,156.71 L549.29,156.73 L550.00,156.75 L550.71,156.77 L551.43,156.79 L552.14,156.80 L552.86,156.82 L553.57,156.84 L554.29,156.86 L555.00,156.88 L555.71,156.89 L556.43,156.91 L557.14,156.93 L557.86,156.95 L558.57,156.96 L559.29,156.98 L560.00,157.00 L560.71,157.01 L561.43,157.02 L562.14,157.03 L562.86,157.04 L563.57,157.05 L564.29,157.06 L565.00,157.07 L565.71,157.09 L566.43,157.10 L567.14,157.11 L567.86,157.12 L568.57,157.13 L569.29,157.14 L570.00,157.15 L570.71,157.16 L571.43,157.17 L572.14,157.18 L572.86,157.19 L573.57,157.20 L574.29,157.21 L575.00,157.23 L575.71,157.24 L576.43,157.25 L577.14,157.26 L577.86,157.27 L578.57,157.28 L579.29,157.29 L580.00,157.30 L580.71,157.31 L581.43,157.31 L582.14,157.32 L582.86,157.33 L583.57,157.34 L584.29,157.34 L585.00,157.35 L585.71,157.36 L586.43,157.36 L587.14,157.37 L587.86,157.38 L588.57,157.39 L589.29,157.39 L590.00,157.40 L590.71,157.41 L591.43,157.41 L592.14,157.42 L592.86,157.43 L593.57,157.44 L594.29,157.44 L595.00,157.45 L595.71,157.46 L596.43,157.46 L597.14,157.47 L597.86,157.48 L598.57,157.49 L599.29,157.49 L600.00,157.50 L600.70,157.51 L601.40,157.51 L602.10,157.52 L602.80,157.53 L603.50,157.53 L604.20,157.54 L604.90,157.54 L605.60,157.55 L606.30,157.56 L607.00,157.56 L607.70,157.57 L608.40,157.57 L609.10,157.58 L609.80,157.59 L610.50,157.59 L611.20,157.60 L611.90,170.00 L612.80,188.00 L614.10,194.20 L614.86,194.66 L615.62,195.12 L616.38,195.58 L617.14,196.04 L617.90,196.50 L618.72,196.68 L619.54,196.86 L620.36,197.04 L621.18,197.22 L622.00,197.40 L622.71,197.45 L623.42,197.51 L624.13,197.56 L624.84,197.62 L625.55,197.67 L626.25,197.73 L626.96,197.78 L627.67,197.84 L628.38,197.89 L629.09,197.95 L629.80,198.00 L630.52,198.01 L631.24,198.02 L631.96,198.03 L632.69,198.04 L633.41,198.05 L634.13,198.06 L634.85,198.07 L635.57,198.09 L636.29,198.10 L637.01,198.11 L637.74,198.12 L638.46,198.13 L639.18,198.14 L639.90,198.15 L640.62,198.16 L641.34,198.17 L642.06,198.18 L642.79,198.19 L643.51,198.20 L644.23,198.21 L644.95,198.23 L645.67,198.24 L646.39,198.25 L647.11,198.26 L647.84,198.27 L648.56,198.28 L649.28,198.29 L650.00,198.30 L650.70,198.30 L651.40,198.30 L652.10,198.31 L652.80,198.31 L653.50,198.31 L654.20,198.31 L654.90,198.31 L655.60,198.32 L656.30,198.32 L657.00,198.32 L657.70,198.32 L658.40,198.32 L659.10,198.33 L659.80,198.33 L660.50,198.33 L661.20,198.33 L661.90,198.33 L662.60,198.34 L663.30,198.34 L664.00,198.34 L664.70,198.34 L665.40,198.34 L666.10,198.35 L666.80,198.35 L667.50,198.35 L668.20,198.35 L668.90,198.35 L669.60,198.36 L670.30,198.36 L671.00,198.36 L671.70,198.36 L672.40,198.36 L673.10,198.37 L673.80,198.37 L674.50,198.37 L675.20,198.37 L675.90,198.37 L676.60,198.38 L677.30,198.38 L678.00,198.38 L678.70,198.38 L679.40,198.38 L680.10,198.39 L680.80,198.39 L681.50,198.39 L682.20,198.39 L682.90,198.39 L683.60,198.40 L684.30,198.40 L685.00,198.40" fill="none" stroke="#e9a10a" stroke-width="1.05" stroke-linejoin="round" stroke-linecap="round" />
<path d="M492.80,199.45 L519.60,199.45" fill="none" stroke="#1f9a6a" stroke-width="1.2" stroke-linejoin="round" stroke-linecap="round" />
<path d="M519.60,200.46 L521.11,200.49 L522.61,200.07 L524.12,200.53 L525.62,200.32 L527.12,200.24 L528.63,200.10 L530.13,200.24 L531.64,200.54 L533.14,200.19 L534.65,200.12 L536.15,200.12 L537.66,200.11 L539.16,200.23 L540.67,200.51 L542.18,200.09 L543.68,200.15 L545.19,200.52 L546.69,200.55 L548.20,200.54 L549.70,200.17 L551.21,200.23 L552.71,200.53 L554.22,200.29 L555.72,200.40 L557.23,200.21 L558.73,200.06 L560.24,200.22 L561.74,200.42 L563.25,200.44 L564.75,200.33 L566.25,200.28 L567.76,200.32 L569.26,200.27 L570.77,200.32 L572.27,200.47 L573.78,200.15 L575.28,200.35 L576.79,200.52 L578.29,200.47 L579.80,200.14 L581.31,200.53 L582.81,200.47 L584.32,200.13 L585.82,200.18 L587.33,200.15 L588.83,200.08 L590.34,200.54 L591.84,200.25 L593.35,200.49 L594.85,200.11 L596.36,200.06 L597.86,200.48 L599.37,200.45 L600.87,200.55 L602.38,200.39 L603.88,200.31 L605.38,200.43 L606.89,200.10 L608.39,200.32 L609.90,200.27 L611.40,200.12 L612.91,200.35 L614.41,200.21 L615.92,200.30 L617.42,200.24 L618.93,200.21 L620.43,200.23 L621.94,200.35 L623.45,200.54 L624.95,200.52 L626.46,200.48 L627.96,200.47 L629.47,200.19 L630.97,200.54 L632.48,200.18 L633.98,200.11 L635.49,200.30 L636.99,200.42 L638.50,200.22 L640.00,200.37 L641.54,200.14 L643.08,200.43 L644.62,200.11 L646.15,200.07 L647.69,200.05 L649.23,200.16 L650.77,200.17 L652.31,199.88 L653.85,199.79 L655.38,199.82 L656.92,199.49 L658.46,199.62 L660.00,199.77 L661.56,199.73 L663.12,199.35 L664.69,199.74 L666.25,199.49 L667.81,199.78 L669.38,199.46 L670.94,199.37 L672.50,199.52 L674.06,199.68 L675.62,199.44 L677.19,199.65 L678.75,199.56 L680.31,199.37 L681.88,199.33 L683.44,199.42 L685.00,199.35" fill="none" stroke="#1f9a6a" stroke-width="1.1" stroke-linejoin="round" stroke-linecap="round" />
<line x1="597.50" y1="217.50" x2="608.70" y2="217.50" stroke="#2323cf" stroke-width="1.1" />
<line x1="597.50" y1="228.20" x2="608.70" y2="228.20" stroke="#e9a10a" stroke-width="1.1" />
<line x1="597.50" y1="238.70" x2="608.70" y2="238.70" stroke="#1f9a6a" stroke-width="1.1" />
<text x="612.70" y="220.70" font-size="8.1" text-anchor="start" font-weight="normal" fill="#231f20" >Ret-XXM 2.0 No. 1</text>
<text x="612.70" y="231.40" font-size="8.1" text-anchor="start" font-weight="normal" fill="#231f20" >Ret-ACR1 2.0 No. 1</text>
<text x="612.70" y="241.90" font-size="8.1" text-anchor="start" font-weight="normal" fill="#231f20" >Ret-eYFP No. 1</text>
<line x1="492.60" y1="229.30" x2="492.60" y2="312.70" stroke="#3a3a3a" stroke-width="0.9" />
<line x1="492.15" y1="312.30" x2="685.00" y2="312.30" stroke="#3a3a3a" stroke-width="0.9" />
<line x1="490.40" y1="301.30" x2="492.60" y2="301.30" stroke="#3a3a3a" stroke-width="0.9" />
<text x="488.20" y="304.40" font-size="8.1" text-anchor="end" font-weight="normal" fill="#231f20" >0</text>
<line x1="490.40" y1="281.30" x2="492.60" y2="281.30" stroke="#3a3a3a" stroke-width="0.9" />
<text x="488.20" y="284.40" font-size="8.1" text-anchor="end" font-weight="normal" fill="#231f20" >5</text>
<line x1="490.40" y1="261.30" x2="492.60" y2="261.30" stroke="#3a3a3a" stroke-width="0.9" />
<text x="488.20" y="264.40" font-size="8.1" text-anchor="end" font-weight="normal" fill="#231f20" >10</text>
<line x1="490.40" y1="241.30" x2="492.60" y2="241.30" stroke="#3a3a3a" stroke-width="0.9" />
<text x="488.20" y="244.40" font-size="8.1" text-anchor="end" font-weight="normal" fill="#231f20" >15</text>
<line x1="520.00" y1="312.30" x2="520.00" y2="315.20" stroke="#3a3a3a" stroke-width="0.9" />
<text x="520.00" y="327.20" font-size="8.1" text-anchor="middle" font-weight="normal" fill="#231f20" >0</text>
<line x1="565.65" y1="312.30" x2="565.65" y2="315.20" stroke="#3a3a3a" stroke-width="0.9" />
<text x="565.65" y="327.20" font-size="8.1" text-anchor="middle" font-weight="normal" fill="#231f20" >5</text>
<line x1="611.30" y1="312.30" x2="611.30" y2="315.20" stroke="#3a3a3a" stroke-width="0.9" />
<text x="611.30" y="327.20" font-size="8.1" text-anchor="middle" font-weight="normal" fill="#231f20" >10</text>
<line x1="656.95" y1="312.30" x2="656.95" y2="315.20" stroke="#3a3a3a" stroke-width="0.9" />
<text x="656.95" y="327.20" font-size="8.1" text-anchor="middle" font-weight="normal" fill="#231f20" >15</text>
<text x="588.10" y="334.30" font-size="7.9" text-anchor="middle" font-weight="normal" fill="#231f20" >Time (min)</text>
<text x="0" y="0" transform="translate(462.60,288.40) rotate(-90)" font-size="7.2" text-anchor="start" font-weight="normal" fill="#231f20" >H<tspan font-size="5.3" dy="1.5">2</tspan><tspan dy="-1.5">O</tspan><tspan font-size="5.3" dy="1.5">2</tspan><tspan dy="-1.5"> (µM)</tspan></text>
<path d="M492.80,298.98 L493.60,298.73 L494.40,298.52 L495.20,298.62 L496.00,298.81 L496.70,298.51 L497.40,298.16 L498.10,297.75 L498.80,297.78 L499.50,297.55 L500.20,297.59 L500.90,297.79 L501.60,298.12 L502.30,298.00 L503.00,297.95 L503.71,298.35 L504.43,298.40 L505.14,298.52 L505.86,298.68 L506.57,298.81 L507.29,299.26 L508.00,299.29 L508.73,299.67 L509.45,299.25 L510.17,299.59 L510.90,299.56 L511.62,299.35 L512.35,299.75 L513.07,299.85 L513.80,299.51 L514.57,299.65 L515.35,299.97 L516.12,300.02 L516.90,299.84 L517.67,300.06 L518.45,299.58 L519.23,299.98 L520.00,299.94 L520.83,299.74 L521.65,299.54 L522.47,299.47 L523.30,299.22 L524.08,298.40 L524.87,297.58 L525.65,296.61 L526.43,294.73 L527.22,293.43 L528.00,292.25 L528.82,289.44 L529.63,286.67 L530.45,284.03 L531.27,282.21 L532.08,280.05 L532.90,277.81 L533.68,276.05 L534.47,273.96 L535.25,272.20 L536.03,270.70 L536.82,268.85 L537.60,266.95 L538.40,264.99 L539.20,263.61 L540.00,261.71 L540.80,260.11 L541.60,258.00 L542.40,256.58 L543.18,254.46 L543.97,253.12 L544.75,251.51 L545.53,250.22 L546.32,248.54 L547.10,246.82 L547.85,245.70 L548.60,245.02 L549.35,244.36 L550.10,243.18 L550.85,242.65 L551.60,242.04 L552.35,241.57 L553.10,240.87 L553.84,240.46 L554.58,240.86 L555.31,240.57 L556.05,240.44 L556.79,240.51 L557.52,240.14 L558.26,239.90 L559.00,239.73 L559.72,239.97 L560.44,240.39 L561.16,240.55 L561.88,240.39 L562.60,240.54 L563.32,240.68 L564.04,240.34 L564.76,240.81 L565.48,240.52 L566.20,240.52 L566.94,241.55 L567.68,241.61 L568.41,242.46 L569.15,243.11 L569.89,243.66 L570.62,244.29 L571.36,244.55 L572.10,245.15 L572.86,245.32 L573.63,245.78 L574.39,246.69 L575.15,246.94 L575.92,247.39 L576.68,247.97 L577.45,248.37 L578.21,248.81 L578.97,249.00 L579.74,249.66 L580.50,250.25 L581.23,250.45 L581.96,250.58 L582.69,250.78 L583.42,251.23 L584.15,251.23 L584.88,251.78 L585.62,251.78 L586.35,252.08 L587.08,252.61 L587.81,252.53 L588.54,253.01 L589.27,253.19 L590.00,253.42 L590.71,253.49 L591.43,253.70 L592.14,254.03 L592.86,253.68 L593.57,253.73 L594.29,254.05 L595.00,254.09 L595.71,254.69 L596.43,254.72 L597.14,255.25 L597.86,255.94 L598.57,255.99 L599.29,256.30 L600.00,257.09 L600.77,256.99 L601.54,257.58 L602.31,258.05 L603.09,258.01 L603.86,258.53 L604.63,258.57 L605.40,258.95 L606.12,259.45 L606.85,259.41 L607.57,259.42 L608.29,259.86 L609.02,260.03 L609.74,260.05 L610.46,260.51 L611.18,260.70 L611.91,260.85 L612.63,260.92 L613.35,261.51 L614.08,261.78 L614.80,261.59 L615.52,262.13 L616.23,262.70 L616.95,262.76 L617.66,263.18 L618.38,263.80 L619.09,263.95 L619.81,264.46 L620.52,264.93 L621.24,265.62 L621.96,266.20 L622.67,266.21 L623.39,266.60 L624.10,267.24 L624.82,267.58 L625.53,267.94 L626.25,268.55 L627.00,268.65 L627.74,269.11 L628.49,269.58 L629.24,270.12 L629.98,270.22 L630.73,270.74 L631.48,270.87 L632.22,271.57 L632.97,271.81 L633.71,272.30 L634.46,272.54 L635.21,272.81 L635.95,273.46 L636.70,273.87 L637.44,273.82 L638.17,274.20 L638.91,274.23 L639.64,274.65 L640.38,274.90 L641.11,274.85 L641.85,274.83 L642.58,275.07 L643.32,275.50 L644.05,275.78 L644.79,276.19 L645.52,276.28 L646.26,276.46 L646.99,276.30 L647.73,277.01 L648.46,276.72 L649.20,277.21 L649.94,277.48 L650.67,277.82 L651.41,277.65 L652.14,278.35 L652.88,278.36 L653.61,278.64 L654.35,279.07 L655.08,279.30 L655.82,279.08 L656.55,279.44 L657.29,279.71 L658.02,279.85 L658.76,280.58 L659.49,280.45 L660.23,280.67 L660.96,281.22 L661.70,281.33 L662.44,281.28 L663.19,281.93 L663.93,281.94 L664.67,282.56 L665.41,282.52 L666.16,283.02 L666.90,283.14 L667.64,283.49 L668.39,283.46 L669.13,283.80 L669.87,284.20 L670.61,284.36 L671.36,284.78 L672.10,284.82 L672.82,285.29 L673.53,285.26 L674.25,285.38 L674.97,285.64 L675.68,285.99 L676.40,286.06 L677.12,285.93 L677.83,286.33 L678.55,286.15 L679.27,286.44 L679.98,286.32 L680.70,286.52 L681.42,286.74 L682.13,287.10 L682.85,287.44 L683.57,287.28 L684.28,287.31 L685.00,287.35 L685.00,301.85 L684.28,301.60 L683.57,301.35 L682.85,300.89 L682.13,300.95 L681.42,301.01 L680.70,300.94 L679.98,300.86 L679.27,300.45 L678.55,300.45 L677.83,299.98 L677.12,300.10 L676.40,299.67 L675.68,299.45 L674.97,299.51 L674.25,299.48 L673.53,299.32 L672.82,299.00 L672.10,299.18 L671.36,298.69 L670.61,298.58 L669.87,298.21 L669.13,298.09 L668.39,297.90 L667.64,297.34 L666.90,297.16 L666.16,296.75 L665.41,296.72 L664.67,296.16 L663.93,296.25 L663.19,295.72 L662.44,295.85 L661.70,295.27 L660.96,294.89 L660.23,294.97 L659.49,294.70 L658.76,294.09 L658.02,294.34 L657.29,293.99 L656.55,293.79 L655.82,293.66 L655.08,292.96 L654.35,292.71 L653.61,292.65 L652.88,292.45 L652.14,291.98 L651.41,292.20 L650.67,291.54 L649.94,291.40 L649.20,291.19 L648.46,291.26 L647.73,290.55 L646.99,290.83 L646.26,290.24 L645.52,290.01 L644.79,289.67 L644.05,289.66 L643.32,289.52 L642.58,289.52 L641.85,289.34 L641.11,288.89 L640.38,288.42 L639.64,288.25 L638.91,288.24 L638.17,287.84 L637.44,287.80 L636.70,287.33 L635.95,286.99 L635.21,286.90 L634.46,286.43 L633.71,285.93 L632.97,285.68 L632.22,285.17 L631.48,285.13 L630.73,284.52 L629.98,284.29 L629.24,283.65 L628.49,283.45 L627.74,283.18 L627.00,282.89 L626.25,282.25 L625.53,282.02 L624.82,281.56 L624.10,281.06 L623.39,280.88 L622.67,280.43 L621.96,279.61 L621.24,279.37 L620.52,279.22 L619.81,278.86 L619.09,278.54 L618.38,277.85 L617.66,277.64 L616.95,277.23 L616.23,276.46 L615.52,276.20 L614.80,275.91 L614.08,275.29 L613.35,275.15 L612.63,275.31 L611.91,274.95 L611.18,274.69 L610.46,274.45 L609.74,274.49 L609.02,274.08 L608.29,273.83 L607.57,273.85 L606.85,273.44 L606.12,272.98 L605.40,273.05 L604.63,272.85 L603.86,272.33 L603.09,272.27 L602.31,271.66 L601.54,271.56 L600.77,271.58 L600.00,270.91 L599.29,270.79 L598.57,270.18 L597.86,269.32 L597.14,269.09 L596.43,268.71 L595.71,267.83 L595.00,267.51 L594.29,267.27 L593.57,267.30 L592.86,267.06 L592.14,266.43 L591.43,266.47 L590.71,266.39 L590.00,266.18 L589.27,265.78 L588.54,265.33 L587.81,265.18 L587.08,264.47 L586.35,264.37 L585.62,264.04 L584.88,263.40 L584.15,263.33 L583.42,262.69 L582.69,262.52 L581.96,262.08 L581.23,261.58 L580.50,261.15 L579.74,260.74 L578.97,260.40 L578.21,259.59 L577.45,259.03 L576.68,258.43 L575.92,258.01 L575.15,257.46 L574.39,256.71 L573.63,256.62 L572.86,256.08 L572.10,255.25 L571.36,254.68 L570.62,253.76 L569.89,253.22 L569.15,252.59 L568.41,252.07 L567.68,251.74 L566.94,250.63 L566.20,250.48 L565.48,250.24 L564.76,249.71 L564.04,249.94 L563.32,249.36 L562.60,249.26 L561.88,249.17 L561.16,248.77 L560.44,248.69 L559.72,248.87 L559.00,248.87 L558.26,249.30 L557.52,249.66 L556.79,249.89 L556.05,250.56 L555.31,251.03 L554.58,251.34 L553.84,252.34 L553.10,252.53 L552.35,253.60 L551.60,254.91 L550.85,256.07 L550.10,257.32 L549.35,257.91 L548.60,259.03 L547.85,260.13 L547.10,260.78 L546.32,262.22 L545.53,263.72 L544.75,265.59 L543.97,267.15 L543.18,268.98 L542.40,270.02 L541.60,272.17 L540.80,273.62 L540.00,275.59 L539.20,277.25 L538.40,279.45 L537.60,281.05 L536.82,282.75 L536.03,284.50 L535.25,286.60 L534.47,288.44 L533.68,289.95 L532.90,291.79 L532.08,293.11 L531.27,294.52 L530.45,296.27 L529.63,297.19 L528.82,298.00 L528.00,298.75 L527.22,299.17 L526.43,299.47 L525.65,299.19 L524.87,299.82 L524.08,300.60 L523.30,301.38 L522.47,301.38 L521.65,301.56 L520.83,301.61 L520.00,301.66 L519.23,301.60 L518.45,301.97 L517.67,301.47 L516.90,301.66 L516.12,301.45 L515.35,301.48 L514.57,301.77 L513.80,301.89 L513.07,301.48 L512.35,301.50 L511.62,301.82 L510.90,301.54 L510.17,301.44 L509.45,301.70 L508.73,301.21 L508.00,301.51 L507.29,301.19 L506.57,301.30 L505.86,301.09 L505.14,300.91 L504.43,300.69 L503.71,300.39 L503.00,300.45 L502.30,300.04 L501.60,299.56 L500.90,299.53 L500.20,299.37 L499.50,299.05 L498.80,299.34 L498.10,299.89 L497.40,300.00 L496.70,300.17 L496.00,300.39 L495.20,300.73 L494.40,300.98 L493.60,300.92 L492.80,300.82Z" fill="#93c0f5" stroke="none" />
<path d="M522.14,299.51 L522.85,299.45 L523.56,299.39 L524.28,299.32 L524.99,299.26 L525.70,299.20 L526.46,298.96 L527.21,298.71 L527.97,298.47 L528.73,298.23 L529.49,297.99 L530.24,297.74 L531.00,297.50 L531.73,297.24 L532.47,296.99 L533.20,296.73 L533.93,296.48 L534.67,296.22 L535.40,295.97 L536.13,295.71 L536.87,295.46 L537.60,295.20 L538.37,294.89 L539.14,294.57 L539.91,294.26 L540.69,293.94 L541.46,293.63 L542.23,293.31 L543.00,293.00 L543.72,292.79 L544.44,292.58 L545.17,292.37 L545.89,292.16 L546.61,291.94 L547.33,291.73 L548.06,291.52 L548.78,291.31 L549.50,291.10 L550.29,290.93 L551.07,290.76 L551.86,290.59 L552.64,290.41 L553.43,290.24 L554.21,290.07 L555.00,289.90 L555.71,289.82 L556.42,289.74 L557.13,289.67 L557.84,289.59 L558.56,289.51 L559.27,289.43 L559.98,289.36 L560.69,289.28 L561.40,289.20 L562.17,289.13 L562.93,289.07 L563.70,289.00 L564.47,288.93 L565.23,288.87 L566.00,288.80 L566.71,288.79 L567.43,288.77 L568.14,288.76 L568.86,288.74 L569.57,288.73 L570.29,288.71 L571.00,288.70 L571.80,288.78 L572.60,288.86 L573.40,288.94 L574.20,289.02 L575.00,289.10 L575.79,289.21 L576.57,289.33 L577.36,289.44 L578.14,289.56 L578.93,289.67 L579.71,289.79 L580.50,289.90 L581.25,290.03 L582.00,290.17 L582.75,290.30 L583.50,290.43 L584.25,290.57 L585.00,290.70 L585.71,290.83 L586.43,290.96 L587.14,291.09 L587.86,291.21 L588.57,291.34 L589.29,291.47 L590.00,291.60 L590.71,291.76 L591.43,291.91 L592.14,292.07 L592.86,292.23 L593.57,292.39 L594.29,292.54 L595.00,292.70 L595.71,292.87 L596.43,293.04 L597.14,293.21 L597.86,293.39 L598.57,293.56 L599.29,293.73 L600.00,293.90 L600.77,294.09 L601.54,294.27 L602.31,294.46 L603.09,294.64 L603.86,294.83 L604.63,295.01 L605.40,295.20 L606.17,295.40 L606.93,295.60 L607.70,295.80 L608.47,296.00 L609.23,296.20 L610.00,296.40 L610.73,296.54 L611.45,296.67 L612.17,296.81 L612.90,296.95 L613.62,297.09 L614.35,297.23 L615.07,297.36 L615.80,297.50 L616.50,297.62 L617.20,297.73 L617.90,297.85 L618.60,297.97 L619.30,298.08 L620.00,298.20 L620.78,298.29 L621.56,298.38 L622.34,298.46 L623.12,298.55 L623.91,298.64 L624.69,298.72 L625.47,298.81 L626.25,298.90 L626.97,298.91 L627.68,298.93 L628.40,298.94 L629.11,298.96 L629.83,298.97 L630.54,298.98 L631.26,299.00 L631.97,299.01 L632.69,299.02 L633.41,299.04 L634.12,299.05 L634.84,299.07 L635.55,299.08 L636.27,299.09 L636.98,299.11 L637.70,299.12 L638.41,299.13 L639.13,299.15 L639.84,299.16 L640.56,299.18 L641.28,299.19 L641.99,299.20 L642.71,299.22 L643.42,299.23 L644.14,299.24 L644.85,299.26 L645.57,299.27 L646.28,299.29 L647.00,299.30 L647.70,299.29 L648.41,299.29 L649.11,299.28 L649.81,299.28 L650.52,299.27 L651.22,299.27 L651.93,299.26 L652.63,299.26 L653.33,299.25 L654.04,299.24 L654.74,299.24 L655.44,299.23 L656.15,299.23 L656.85,299.22 L657.56,299.22 L658.26,299.21 L658.96,299.21 L659.67,299.20 L660.37,299.19 L661.07,299.19 L661.78,299.18 L662.48,299.18 L663.19,299.17 L663.89,299.17 L664.59,299.16 L665.30,299.16 L666.00,299.15 L666.70,299.14 L667.41,299.14 L668.11,299.13 L668.81,299.13 L669.52,299.12 L670.22,299.12 L670.93,299.11 L671.63,299.11 L672.33,299.10 L673.04,299.09 L673.74,299.09 L674.44,299.08 L675.15,299.08 L675.85,299.07 L676.56,299.07 L677.26,299.06 L677.96,299.06 L678.67,299.05 L679.37,299.04 L680.07,299.04 L680.78,299.03 L681.48,299.03 L682.19,299.02 L682.89,299.02 L683.59,299.01 L684.30,299.01 L685.00,299.00 L685.00,302.00 L684.30,302.01 L683.59,302.01 L682.89,302.02 L682.19,302.02 L681.48,302.03 L680.78,302.03 L680.07,302.04 L679.37,302.04 L678.67,302.05 L677.96,302.06 L677.26,302.06 L676.56,302.07 L675.85,302.07 L675.15,302.08 L674.44,302.08 L673.74,302.09 L673.04,302.09 L672.33,302.10 L671.63,302.11 L670.93,302.11 L670.22,302.12 L669.52,302.12 L668.81,302.13 L668.11,302.13 L667.41,302.14 L666.70,302.14 L666.00,302.15 L665.30,302.16 L664.59,302.16 L663.89,302.17 L663.19,302.17 L662.48,302.18 L661.78,302.18 L661.07,302.19 L660.37,302.19 L659.67,302.20 L658.96,302.21 L658.26,302.21 L657.56,302.22 L656.85,302.22 L656.15,302.23 L655.44,302.23 L654.74,302.24 L654.04,302.24 L653.33,302.25 L652.63,302.26 L651.93,302.26 L651.22,302.27 L650.52,302.27 L649.81,302.28 L649.11,302.28 L648.41,302.29 L647.70,302.29 L647.00,302.30 L646.28,302.29 L645.57,302.27 L644.85,302.26 L644.14,302.24 L643.42,302.23 L642.71,302.22 L641.99,302.20 L641.28,302.19 L640.56,302.18 L639.84,302.16 L639.13,302.15 L638.41,302.13 L637.70,302.12 L636.98,302.11 L636.27,302.09 L635.55,302.08 L634.84,302.07 L634.12,302.05 L633.41,302.04 L632.69,302.02 L631.97,302.01 L631.26,302.00 L630.54,301.98 L629.83,301.97 L629.11,301.96 L628.40,301.94 L627.68,301.93 L626.97,301.91 L626.25,301.90 L625.47,301.81 L624.69,301.72 L623.91,301.64 L623.12,301.55 L622.34,301.46 L621.56,301.38 L620.78,301.29 L620.00,301.20 L619.30,301.08 L618.60,300.97 L617.90,300.85 L617.20,300.73 L616.50,300.62 L615.80,300.50 L615.07,300.36 L614.35,300.23 L613.62,300.09 L612.90,299.95 L612.17,299.81 L611.45,299.67 L610.73,299.54 L610.00,299.40 L609.23,299.20 L608.47,299.00 L607.70,298.80 L606.93,298.60 L606.17,298.40 L605.40,298.20 L604.63,298.01 L603.86,297.83 L603.09,297.64 L602.31,297.46 L601.54,297.27 L600.77,297.09 L600.00,296.90 L599.29,296.73 L598.57,296.56 L597.86,296.39 L597.14,296.21 L596.43,296.04 L595.71,295.87 L595.00,295.70 L594.29,295.54 L593.57,295.39 L592.86,295.23 L592.14,295.07 L591.43,294.91 L590.71,294.76 L590.00,294.60 L589.29,294.47 L588.57,294.34 L587.86,294.21 L587.14,294.09 L586.43,293.96 L585.71,293.83 L585.00,293.70 L584.25,293.57 L583.50,293.43 L582.75,293.30 L582.00,293.17 L581.25,293.03 L580.50,292.90 L579.71,292.79 L578.93,292.67 L578.14,292.56 L577.36,292.44 L576.57,292.33 L575.79,292.21 L575.00,292.10 L574.20,292.02 L573.40,291.94 L572.60,291.86 L571.80,291.78 L571.00,291.70 L570.29,291.71 L569.57,291.73 L568.86,291.74 L568.14,291.76 L567.43,291.77 L566.71,291.79 L566.00,291.80 L565.23,291.87 L564.47,291.93 L563.70,292.00 L562.93,292.07 L562.17,292.13 L561.40,292.20 L560.69,292.28 L559.98,292.36 L559.27,292.43 L558.56,292.51 L557.84,292.59 L557.13,292.67 L556.42,292.74 L555.71,292.82 L555.00,292.90 L554.21,293.07 L553.43,293.24 L552.64,293.41 L551.86,293.59 L551.07,293.76 L550.29,293.93 L549.50,294.10 L548.78,294.31 L548.06,294.52 L547.33,294.73 L546.61,294.94 L545.89,295.16 L545.17,295.37 L544.44,295.58 L543.72,295.79 L543.00,296.00 L542.23,296.31 L541.46,296.63 L540.69,296.94 L539.91,297.26 L539.14,297.57 L538.37,297.89 L537.60,298.20 L536.87,298.46 L536.13,298.71 L535.40,298.97 L534.67,299.22 L533.93,299.48 L533.20,299.73 L532.47,299.99 L531.73,300.24 L531.00,300.50 L530.24,300.74 L529.49,300.99 L528.73,301.23 L527.97,301.47 L527.21,301.71 L526.46,301.96 L525.70,302.20 L524.99,302.26 L524.28,302.32 L523.56,302.39 L522.85,302.45 L522.14,302.51Z" fill="#f8efa0" stroke="none" />
<path d="M529.30,298.70 L685.00,298.90 L685.00,302.30 L529.30,302.10Z" fill="#f1e65c" stroke="none" />
<path d="M529.30,300.15 L530.80,300.13 L532.31,300.54 L533.81,300.43 L535.32,300.30 L536.82,300.43 L538.33,300.14 L539.83,300.34 L541.33,300.40 L542.84,300.37 L544.34,300.15 L545.85,300.14 L547.35,300.39 L548.86,300.52 L550.36,300.15 L551.86,300.09 L553.37,300.13 L554.87,300.48 L556.38,300.28 L557.88,300.32 L559.39,300.59 L560.89,300.40 L562.39,300.23 L563.90,300.45 L565.40,300.10 L566.91,300.24 L568.41,300.45 L569.91,300.19 L571.42,300.13 L572.92,300.37 L574.43,300.28 L575.93,300.60 L577.44,300.17 L578.94,300.52 L580.44,300.32 L581.95,300.53 L583.45,300.35 L584.96,300.46 L586.46,300.29 L587.97,300.25 L589.47,300.36 L590.97,300.54 L592.48,300.31 L593.98,300.26 L595.49,300.35 L596.99,300.19 L598.50,300.31 L600.00,300.44 L601.52,300.43 L603.04,300.46 L604.55,300.32 L606.07,300.19 L607.59,300.20 L609.11,300.36 L610.62,300.30 L612.14,300.49 L613.66,300.35 L615.18,300.60 L616.70,300.53 L618.21,300.57 L619.73,300.61 L621.25,300.51 L622.77,300.47 L624.29,300.42 L625.80,300.30 L627.32,300.68 L628.84,300.54 L630.36,300.34 L631.88,300.76 L633.39,300.60 L634.91,300.63 L636.43,300.54 L637.95,300.39 L639.46,300.84 L640.98,300.43 L642.50,300.53 L644.02,300.86 L645.54,300.43 L647.05,300.62 L648.57,300.62 L650.09,300.51 L651.61,300.86 L653.12,300.61 L654.64,300.41 L656.16,300.65 L657.68,300.42 L659.20,300.78 L660.71,300.87 L662.23,300.90 L663.75,300.47 L665.27,300.79 L666.79,300.62 L668.30,300.71 L669.82,300.63 L671.34,300.64 L672.86,300.56 L674.38,300.81 L675.89,300.55 L677.41,301.00 L678.93,300.54 L680.45,301.01 L681.96,300.63 L683.48,300.58 L685.00,300.92" fill="none" stroke="#1f9a6a" stroke-width="1.2" stroke-linejoin="round" stroke-linecap="round" />
<path d="M492.80,301.20 L493.52,301.20 L494.23,301.20 L494.95,301.20 L495.66,301.20 L496.38,301.20 L497.09,301.20 L497.81,301.20 L498.53,301.20 L499.24,301.20 L499.96,301.20 L500.67,301.20 L501.39,301.20 L502.11,301.20 L502.82,301.20 L503.54,301.20 L504.25,301.20 L504.97,301.20 L505.68,301.20 L506.40,301.20 L507.12,301.20 L507.83,301.20 L508.55,301.20 L509.26,301.20 L509.98,301.20 L510.69,301.20 L511.41,301.20 L512.13,301.20 L512.84,301.20 L513.56,301.20 L514.27,301.20 L514.99,301.20 L515.71,301.20 L516.42,301.20 L517.14,301.20 L517.85,301.20 L518.57,301.20 L519.28,301.20 L520.00,301.20 L520.71,301.14 L521.42,301.07 L522.14,301.01 L522.85,300.95 L523.56,300.89 L524.28,300.82 L524.99,300.76 L525.70,300.70 L526.46,300.46 L527.21,300.21 L527.97,299.97 L528.73,299.73 L529.49,299.49 L530.24,299.24 L531.00,299.00 L531.73,298.74 L532.47,298.49 L533.20,298.23 L533.93,297.98 L534.67,297.72 L535.40,297.47 L536.13,297.21 L536.87,296.96 L537.60,296.70 L538.37,296.39 L539.14,296.07 L539.91,295.76 L540.69,295.44 L541.46,295.13 L542.23,294.81 L543.00,294.50 L543.72,294.29 L544.44,294.08 L545.17,293.87 L545.89,293.66 L546.61,293.44 L547.33,293.23 L548.06,293.02 L548.78,292.81 L549.50,292.60 L550.29,292.43 L551.07,292.26 L551.86,292.09 L552.64,291.91 L553.43,291.74 L554.21,291.57 L555.00,291.40 L555.71,291.32 L556.42,291.24 L557.13,291.17 L557.84,291.09 L558.56,291.01 L559.27,290.93 L559.98,290.86 L560.69,290.78 L561.40,290.70 L562.17,290.63 L562.93,290.57 L563.70,290.50 L564.47,290.43 L565.23,290.37 L566.00,290.30 L566.71,290.29 L567.43,290.27 L568.14,290.26 L568.86,290.24 L569.57,290.23 L570.29,290.21 L571.00,290.20 L571.80,290.28 L572.60,290.36 L573.40,290.44 L574.20,290.52 L575.00,290.60 L575.79,290.71 L576.57,290.83 L577.36,290.94 L578.14,291.06 L578.93,291.17 L579.71,291.29 L580.50,291.40 L581.25,291.53 L582.00,291.67 L582.75,291.80 L583.50,291.93 L584.25,292.07 L585.00,292.20 L585.71,292.33 L586.43,292.46 L587.14,292.59 L587.86,292.71 L588.57,292.84 L589.29,292.97 L590.00,293.10 L590.71,293.26 L591.43,293.41 L592.14,293.57 L592.86,293.73 L593.57,293.89 L594.29,294.04 L595.00,294.20 L595.71,294.37 L596.43,294.54 L597.14,294.71 L597.86,294.89 L598.57,295.06 L599.29,295.23 L600.00,295.40 L600.77,295.59 L601.54,295.77 L602.31,295.96 L603.09,296.14 L603.86,296.33 L604.63,296.51 L605.40,296.70 L606.17,296.90 L606.93,297.10 L607.70,297.30 L608.47,297.50 L609.23,297.70 L610.00,297.90 L610.73,298.04 L611.45,298.17 L612.17,298.31 L612.90,298.45 L613.62,298.59 L614.35,298.73 L615.07,298.86 L615.80,299.00 L616.50,299.12 L617.20,299.23 L617.90,299.35 L618.60,299.47 L619.30,299.58 L620.00,299.70 L620.78,299.79 L621.56,299.88 L622.34,299.96 L623.12,300.05 L623.91,300.14 L624.69,300.22 L625.47,300.31 L626.25,300.40 L626.97,300.41 L627.68,300.43 L628.40,300.44 L629.11,300.46 L629.83,300.47 L630.54,300.48 L631.26,300.50 L631.97,300.51 L632.69,300.52 L633.41,300.54 L634.12,300.55 L634.84,300.57 L635.55,300.58 L636.27,300.59 L636.98,300.61 L637.70,300.62 L638.41,300.63 L639.13,300.65 L639.84,300.66 L640.56,300.68 L641.28,300.69 L641.99,300.70 L642.71,300.72 L643.42,300.73 L644.14,300.74 L644.85,300.76 L645.57,300.77 L646.28,300.79 L647.00,300.80 L647.70,300.79 L648.41,300.79 L649.11,300.78 L649.81,300.78 L650.52,300.77 L651.22,300.77 L651.93,300.76 L652.63,300.76 L653.33,300.75 L654.04,300.74 L654.74,300.74 L655.44,300.73 L656.15,300.73 L656.85,300.72 L657.56,300.72 L658.26,300.71 L658.96,300.71 L659.67,300.70 L660.37,300.69 L661.07,300.69 L661.78,300.68 L662.48,300.68 L663.19,300.67 L663.89,300.67 L664.59,300.66 L665.30,300.66 L666.00,300.65 L666.70,300.64 L667.41,300.64 L668.11,300.63 L668.81,300.63 L669.52,300.62 L670.22,300.62 L670.93,300.61 L671.63,300.61 L672.33,300.60 L673.04,300.59 L673.74,300.59 L674.44,300.58 L675.15,300.58 L675.85,300.57 L676.56,300.57 L677.26,300.56 L677.96,300.56 L678.67,300.55 L679.37,300.54 L680.07,300.54 L680.78,300.53 L681.48,300.53 L682.19,300.52 L682.89,300.52 L683.59,300.51 L684.30,300.51 L685.00,300.50" fill="none" stroke="#e9a318" stroke-width="0.95" stroke-linejoin="round" stroke-linecap="round" />
<path d="M492.80,299.90 L493.60,299.82 L494.40,299.75 L495.20,299.68 L496.00,299.60 L496.70,299.34 L497.40,299.08 L498.10,298.82 L498.80,298.56 L499.50,298.30 L500.20,298.48 L500.90,298.66 L501.60,298.84 L502.30,299.02 L503.00,299.20 L503.71,299.37 L504.43,299.54 L505.14,299.71 L505.86,299.89 L506.57,300.06 L507.29,300.23 L508.00,300.40 L508.73,300.44 L509.45,300.47 L510.17,300.51 L510.90,300.55 L511.62,300.59 L512.35,300.62 L513.07,300.66 L513.80,300.70 L514.57,300.71 L515.35,300.73 L516.12,300.74 L516.90,300.75 L517.67,300.76 L518.45,300.77 L519.23,300.79 L520.00,300.80 L520.83,300.68 L521.65,300.55 L522.47,300.43 L523.30,300.30 L524.08,299.50 L524.87,298.70 L525.65,297.90 L526.43,297.10 L527.22,296.30 L528.00,295.50 L528.82,293.72 L529.63,291.93 L530.45,290.15 L531.27,288.37 L532.08,286.58 L532.90,284.80 L533.68,283.00 L534.47,281.20 L535.25,279.40 L536.03,277.60 L536.82,275.80 L537.60,274.00 L538.40,272.22 L539.20,270.43 L540.00,268.65 L540.80,266.87 L541.60,265.08 L542.40,263.30 L543.18,261.72 L543.97,260.13 L544.75,258.55 L545.53,256.97 L546.32,255.38 L547.10,253.80 L547.85,252.91 L548.60,252.03 L549.35,251.14 L550.10,250.25 L550.85,249.36 L551.60,248.47 L552.35,247.59 L553.10,246.70 L553.84,246.40 L554.58,246.10 L555.31,245.80 L556.05,245.50 L556.79,245.20 L557.52,244.90 L558.26,244.60 L559.00,244.30 L559.72,244.42 L560.44,244.54 L561.16,244.66 L561.88,244.78 L562.60,244.90 L563.32,245.02 L564.04,245.14 L564.76,245.26 L565.48,245.38 L566.20,245.50 L566.94,246.09 L567.68,246.68 L568.41,247.26 L569.15,247.85 L569.89,248.44 L570.62,249.02 L571.36,249.61 L572.10,250.20 L572.86,250.70 L573.63,251.20 L574.39,251.70 L575.15,252.20 L575.92,252.70 L576.68,253.20 L577.45,253.70 L578.21,254.20 L578.97,254.70 L579.74,255.20 L580.50,255.70 L581.23,256.02 L581.96,256.33 L582.69,256.65 L583.42,256.96 L584.15,257.28 L584.88,257.59 L585.62,257.91 L586.35,258.22 L587.08,258.54 L587.81,258.85 L588.54,259.17 L589.27,259.48 L590.00,259.80 L590.71,259.94 L591.43,260.09 L592.14,260.23 L592.86,260.37 L593.57,260.51 L594.29,260.66 L595.00,260.80 L595.71,261.26 L596.43,261.71 L597.14,262.17 L597.86,262.63 L598.57,263.09 L599.29,263.54 L600.00,264.00 L600.77,264.29 L601.54,264.57 L602.31,264.86 L603.09,265.14 L603.86,265.43 L604.63,265.71 L605.40,266.00 L606.12,266.21 L606.85,266.42 L607.57,266.63 L608.29,266.85 L609.02,267.06 L609.74,267.27 L610.46,267.48 L611.18,267.69 L611.91,267.90 L612.63,268.12 L613.35,268.33 L614.08,268.54 L614.80,268.75 L615.52,269.17 L616.23,269.58 L616.95,270.00 L617.66,270.41 L618.38,270.83 L619.09,271.24 L619.81,271.66 L620.52,272.07 L621.24,272.49 L621.96,272.91 L622.67,273.32 L623.39,273.74 L624.10,274.15 L624.82,274.57 L625.53,274.98 L626.25,275.40 L627.00,275.77 L627.74,276.14 L628.49,276.51 L629.24,276.89 L629.98,277.26 L630.73,277.63 L631.48,278.00 L632.22,278.37 L632.97,278.74 L633.71,279.11 L634.46,279.49 L635.21,279.86 L635.95,280.23 L636.70,280.60 L637.44,280.81 L638.17,281.02 L638.91,281.24 L639.64,281.45 L640.38,281.66 L641.11,281.87 L641.85,282.08 L642.58,282.29 L643.32,282.51 L644.05,282.72 L644.79,282.93 L645.52,283.14 L646.26,283.35 L646.99,283.56 L647.73,283.78 L648.46,283.99 L649.20,284.20 L649.94,284.44 L650.67,284.68 L651.41,284.92 L652.14,285.16 L652.88,285.41 L653.61,285.65 L654.35,285.89 L655.08,286.13 L655.82,286.37 L656.55,286.61 L657.29,286.85 L658.02,287.09 L658.76,287.34 L659.49,287.58 L660.23,287.82 L660.96,288.06 L661.70,288.30 L662.44,288.56 L663.19,288.83 L663.93,289.09 L664.67,289.36 L665.41,289.62 L666.16,289.89 L666.90,290.15 L667.64,290.41 L668.39,290.68 L669.13,290.94 L669.87,291.21 L670.61,291.47 L671.36,291.74 L672.10,292.00 L672.82,292.14 L673.53,292.29 L674.25,292.43 L674.97,292.58 L675.68,292.72 L676.40,292.87 L677.12,293.01 L677.83,293.16 L678.55,293.30 L679.27,293.44 L679.98,293.59 L680.70,293.73 L681.42,293.88 L682.13,294.02 L682.85,294.17 L683.57,294.31 L684.28,294.46 L685.00,294.60" fill="none" stroke="#2323cf" stroke-width="1.1" stroke-linejoin="round" stroke-linecap="round" />
</svg>
</body></html>
